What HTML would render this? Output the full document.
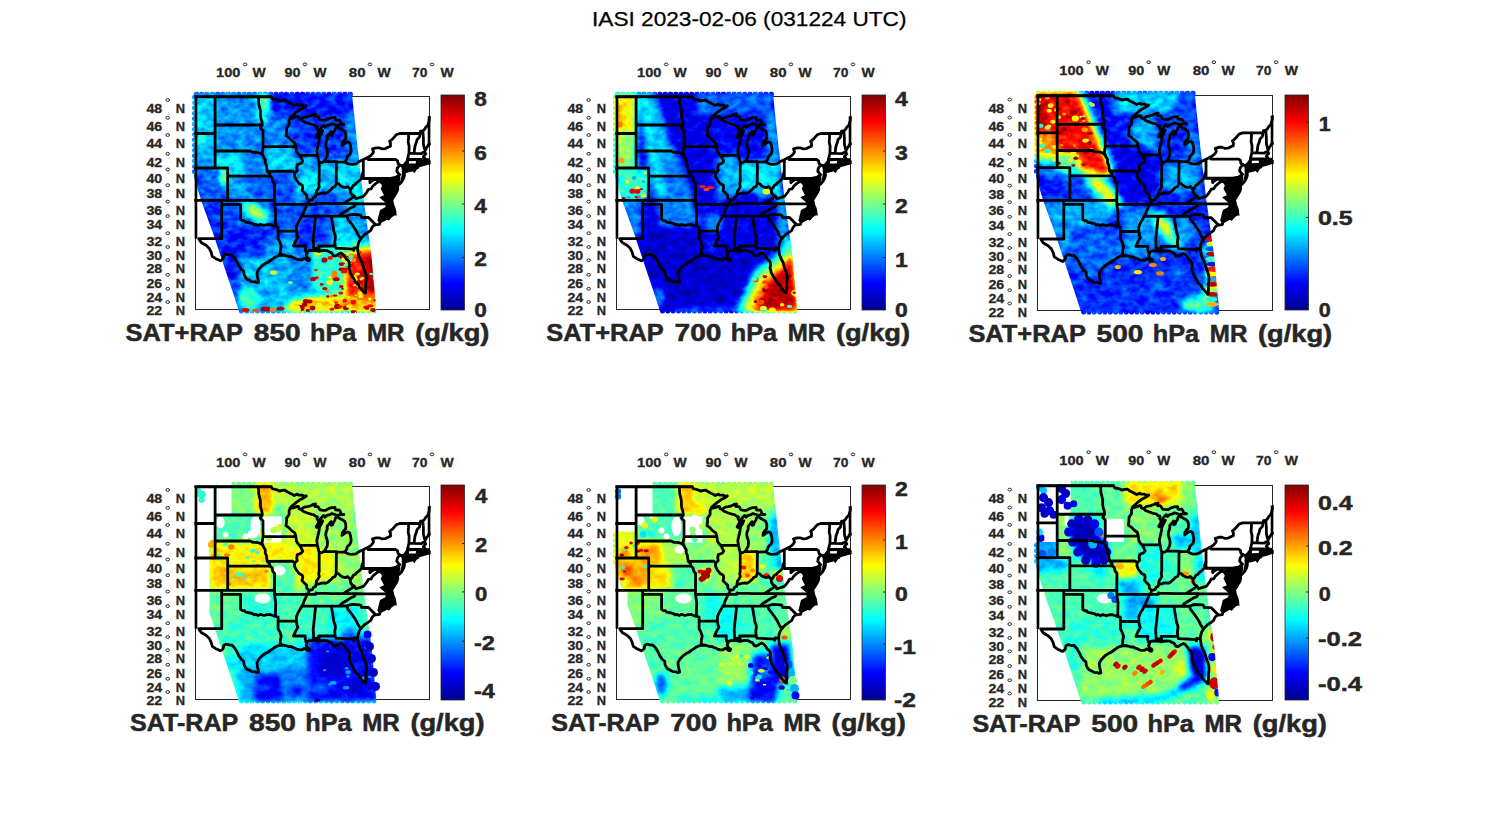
<!DOCTYPE html>
<html><head><meta charset="utf-8"><style>
html,body{margin:0;padding:0;background:#fff;width:1500px;height:825px;overflow:hidden}
svg{display:block}
text{font-family:"Liberation Sans",sans-serif}
</style></head><body>
<svg width="1500" height="825" viewBox="0 0 1500 825">
<defs>
<linearGradient id="jet" x1="0" y1="1" x2="0" y2="0">
<stop offset="0" stop-color="#00008f"/><stop offset="0.125" stop-color="#0000ff"/><stop offset="0.375" stop-color="#00ffff"/><stop offset="0.625" stop-color="#ffff00"/><stop offset="0.875" stop-color="#ff0000"/><stop offset="1" stop-color="#800000"/>
</linearGradient>

<filter id="sb" x="-20" y="-20" width="230" height="260" filterUnits="userSpaceOnUse"><feGaussianBlur stdDeviation="0.6"/></filter>
<clipPath id="fc"><rect x="-1.2" y="-1.2" width="236.4" height="215.4"/></clipPath>

<g id="st" fill="none" stroke="#000" stroke-width="2.8" stroke-linejoin="round" stroke-linecap="round"><path d="M-5.3,0 75.7,0 M75.7,0 76.9,2.4 79.1,2.7 81.3,3.3 84.2,4.6 86.7,3.8 89.5,3.6 91.7,5.3 93.6,6.2 96.1,7.4 98.7,9 101.8,7.6 103.1,8.6 106.2,8.6 108.7,9.6 110.8,9.5 M110.8,9.5 108.1,11.4 104.3,13.3 100.5,16.1 97.4,18.8 94.9,21.1 M94.9,21.1 96.8,21.6 99.3,20.9 101.8,19.8 103.1,20.2 103.4,22.1 105.6,22.9 M105.6,22.9 108.7,20.7 111.9,20.2 115,19.3 117.6,17.9 120.1,17.4 118.8,19 119.4,19.8 122.6,20.2 124.5,23.4 127.6,23.9 130.2,23.9 133.3,21.9 136.4,21.1 139.6,21 139.9,23.4 142.1,23.7 143.7,23.4 145,25.3 145.3,27.1 146.5,27.5 148.4,28 M148.4,28 145.9,28.2 143.4,28.4 141.3,29.2 139.6,28 136.4,27.1 133.9,28.4 131.4,28.9 129.5,30.7 128.3,28.9 126.7,30.3 125.1,32.1 123.2,36.1 M123.2,36.1 122.6,33.9 121.6,32.5 122,30.3 120.1,29.8 118.2,28.2 116.3,27.8 113.8,27.1 111.2,26.2 107.5,24.8 105.6,22.9 M123.2,36.1 122.3,37.4 120.7,40.5 121.3,41 123.8,38.3 125.7,35.2 127.3,34.3 126.1,37 124.5,39.6 123.8,41.9 123.5,44.5 122.9,47.1 122,51 121.3,54.1 121.8,58.1 122,58.9 M122,58.9 122.8,62.6 123.1,64.1 123.7,65.6 125.1,66.3 127,65.8 128.1,65.1 M128.1,65.1 129.5,63.9 130.3,62.2 131.7,59.6 132,56.2 131.7,53.6 130.8,51 130.2,48.4 130.5,45.8 131.7,42.7 131.7,39.6 133.3,37.9 135.5,35.2 136.1,37.4 135.8,38.9 137.1,38.3 137.7,36.1 139,34.3 139.6,33 139.9,31.6 141.3,30 M141.3,30 143.1,31.2 145.3,32.5 147.2,33.4 149.4,35.2 150.3,37.9 150.3,40.5 150,42.7 148.7,43.6 146.8,46.3 146.5,48.9 148.4,47.6 150,46.3 152.2,45.4 154.1,46.3 155,49.3 155.7,53.6 155.3,55.8 154.4,57.9 152.8,59.2 151.6,60.5 151.3,62.6 149.4,65.3 M128.1,65.1 140.9,65.1 140.9,65.6 149.4,65.3 M149.4,65.3 150.9,66.4 152.8,67.3 154.1,67.7 156.6,67.9 160.4,67.3 162.9,65.6 165.4,64.3 167.8,63.2 170.5,61.8 172.6,60.8 175.5,58.8 177.4,56.6 178,55.4 177.4,53.6 177,52.3 180.5,51.3 183.7,51.3 186.2,52.3 190,52.1 193.1,50.5 195,49.7 195,46.7 194.1,44.9 196.3,43.2 197.6,41.9 200.7,38.3 204.2,37 213.1,37 224.6,36.9 225,34.7 227.3,34.3 228.7,33.4 230.3,30.7 232.2,28.9 233.5,25.3 234.7,20.7 M227.3,34.3 227.9,41.4 227.9,47.6 228.9,51.9 229.7,53.9 M224.6,36.9 224,40.5 221.5,43.2 220.9,45.8 219.6,49.3 219,52.8 218.6,56.8 M213.5,56.6 218.6,56.8 225.9,57.1 227.2,56 229.1,55.6 M229.1,55.6 229.7,53.9 230.6,51.9 232.2,49.7 232.8,48.4 234.7,47.6 M229.1,55.6 230.3,57.5 228.4,59.2 227.8,60.5 229.1,61.3 230,63 230.6,64.7 234.7,65.2 M234.7,66.4 230.3,66.8 229.7,65.6 228.4,66.4 227,67.3 M227,67.3 226.5,66 225.4,63.9 225.4,62.9 222.8,62.9 M227,67.3 225.9,67.7 225,68.3 222.4,68.7 M222.8,62.9 222.8,68.7 M222.8,62.9 212,62.6 M222.4,68.7 219.6,69.2 215.8,69.4 213.9,70.2 211,71.5 M211,71.5 212,69.8 212,62.6 213.5,56.6 213.6,49.3 212.7,45.8 213,41.4 213.1,37 M208.9,74.6 211.4,75 215.2,74 218.3,72.7 222.4,70.9 219.6,71.5 217.1,71.9 213.9,72.1 211.4,72.5 210.2,73.1 M209.5,71.5 204.6,68.4 M209.5,71.5 208.9,74 207.6,74.8 208.9,76 208.9,78.9 208.3,81.4 207,83.8 206.3,85 204.5,87.1 202.9,88.5 203.2,86.7 202,85.9 200.1,84.7 199.1,83 200,81.1 M172.6,60.8 172.6,63 200.3,63 202,64.3 202.6,67.3 204.6,68.4 201.8,71.7 201.3,74.8 202.6,76.4 204.2,78.1 202,79.7 200,81.1 197.6,82 167.8,82 167.8,63.2 M197.6,82 197.6,92.3 202.3,92.3 M200,81.1 199.1,83 200.1,85.5 202,88.3 202.1,89.5 202.3,92.3 201.7,94.4 201.1,95.7 200.1,97.2 198.8,99.5 197.2,101.9 196.5,103 M19.6,0 19.6,71.5 M-5.3,37 19.6,37 M19.6,28.5 66.8,28.5 M19.6,54.5 54.5,54.5 57.1,55.8 60.2,55.8 62.7,56.2 65.3,57.1 66.5,58.4 67.5,58.9 M-5.3,71.5 32.2,71.5 32.2,103.9 M32.2,79.7 74.7,79.7 M74.7,79.7 74.1,77.3 71.7,74.8 71.2,71.5 70.9,68.9 69.7,66.4 69.7,63 68.1,60.9 67.5,58.9 M67.5,58.9 66.5,56.2 67.2,52.8 67.5,50.2 67.5,34.3 66.2,33 64.9,31.6 66.8,28.5 M66.8,28.5 66.5,25.3 65.4,22.1 64.9,18.8 64.9,14.2 64,10.4 63.1,6.7 63.1,3.8 62.6,0 M67.5,50.2 100.4,50.2 M71.7,74.8 97.2,74.7 99.2,76.6 M90.5,39.2 93.6,41.4 96.1,44.1 99.3,46.3 100.4,50.2 100.9,54.5 102.4,57.1 104.1,58.8 105.6,61.3 107.2,64.7 105.6,66.8 101.8,68.1 101.2,71.5 101.8,74 99.2,76.6 99,79.7 100.5,83 103.7,87.1 106.8,88.7 107.2,91.1 106.5,94 108.7,96.4 111.2,98.8 111.2,101.5 113.6,103.9 113.1,106.3 111.2,107.8 110.9,109.8 110,111.7 108.4,114.8 107.5,117.9 106.2,119.9 104.3,123.3 102.4,126.4 100.9,130.2 100.9,134.7 101.5,138.4 102.4,140.7 99.9,145.1 98,149.5 M98,149.5 109.8,149.5 109.7,152.5 110.6,155.5 M94.9,21.1 93.6,24.3 93.6,28 91.1,31.6 91.1,34.3 90.5,39.2 M104.1,58.8 122,58.9 M123.7,65.6 123.7,85.1 123.2,87.1 123.8,90.3 122.3,92.8 121,94.4 120.5,97.6 M113.6,103.9 116.9,103.1 118.2,100.7 120.1,99.9 120.5,97.6 123.2,97.6 125.1,96.8 128.3,96.4 130.2,96.8 132,96 133.9,94.4 135.8,92.8 137.1,91.1 139.6,89.9 140.7,87.1 142.8,87.1 145.3,89.5 147.8,90.7 150.3,91.1 152.2,90.1 154.7,92.8 156.6,91.1 157.6,89.1 159.8,87.9 161,86.3 162.6,85.1 164.8,83.4 166.1,81.4 166.4,78.9 167.3,76.4 167.8,74.5 M140.7,87.1 140.9,65.6 M154.7,92.8 155,96 156.6,98.4 158.7,99.5 160.4,102.3 162.9,101.5 165.4,100.7 167.9,99.9 169.2,98.4 171.1,96 173,92.8 175.5,92.4 177.4,89.5 179.3,87.9 181.2,86.3 183.7,84.7 185,85.5 185.3,85.5 M174.4,82 174.4,86.3 176.1,84.7 178.7,83 181.2,83 182.4,82.2 185,84.2 185.3,85.5 186.8,86.7 189.1,88.3 189.7,89.5 188.7,91.5 190,93.2 191.9,94 194.4,96 M158.7,99.5 156.6,101.5 152.8,103.9 147.8,107.1 M111.2,107.8 120.4,107.8 120.4,106.4 121.6,106.8 130.2,106.8 136.4,107.1 147.8,107.1 160.4,107.1 171.1,107.4 197.1,107.4 M110.9,107.8 79,107.8 M74.7,79.7 76.6,81.4 77.2,84.7 79.1,87.1 79,103.9 79,107.8 M-5.3,103.9 79,103.9 M26.2,103.9 26.2,142.2 3.3,142.2 M26.2,107.8 45.1,107.8 45.1,122.9 M45.1,122.9 47,124.1 48.9,124.1 50.1,125.6 52,126 54.5,126.4 57.1,127.1 58.3,128.3 60.5,127.9 62.7,129 64.6,127.9 66.5,128.3 68.4,129 71.6,128.2 74.7,128 77.2,129 79.9,129.9 M79.9,129.9 80.2,116.4 79,107.8 M79.9,129.9 82.6,130.5 82.6,134.7 100.9,134.7 M82.6,134.7 82.6,142.2 84.2,145.1 85.7,149.5 84.8,153.9 84.8,156.9 83.8,159 M106.2,119.6 135.8,119.6 144,119.6 151.6,119.5 M144,119.6 145.9,117.2 149.1,115.2 151.6,113.7 154.1,112.1 156,111 158.5,110.2 160.4,107.1 M151.6,119.5 154.7,118.3 156.6,117.9 164.5,118.3 165.4,119.1 166.1,121 173,121 180.2,128.3 M151.6,119.5 152.2,122.5 154.7,125.6 157.2,129 158.8,131.3 161,134.7 162.3,137.7 164.2,140.7 165.7,141.8 M119.4,119.6 120.1,120.2 117.7,142.9 118.2,153.9 M135.8,119.6 138.5,135.8 139.6,138.4 139.9,140.7 139.3,145.1 139.6,149.5 M123.2,149.5 139.6,149.5 140.5,151.7 149.1,152.1 157.2,152.7 158.2,153.9 158.5,151.4 162,151.7 M123.2,149.5 123.5,152.5 124.2,154.7 M3.3,142.2 4.2,143.8 6,146.2 10.5,148.8 13.6,151.7 15.5,155.4 16.8,159.8 19.9,161.9 24.3,164.1 25.3,164.3 27.5,162.3 28.4,158.7 30.6,157.6 34.4,158.7 36.3,158.3 38.8,161.2 39.4,161.9 42,166.3 43.2,169.1 45.7,172.7 48.2,174.8 48.6,178.4 50.1,181.2 51.4,182.6 53.9,183.7 56.4,185.1 59.6,185.4 61.5,186.1 63.1,185.7 M63.1,185.7 62.7,183.3 61.8,179.8 61.5,176.2 62.7,173.8 63.7,172.3 65.3,170.6 67.2,168.8 69.7,167 72.8,165.5 75.3,163.7 77.9,161.9 79.8,160.5 82.3,159.4 83.8,159 M83.8,159 86.7,158.5 89.8,159 93.6,160.1 95.5,159.8 96.8,160.8 99.9,161.9 101.8,163 104.3,163.4 106.2,163.4 107.5,162.7 108.7,161.9 110.6,162.7 111.9,164.1 113.5,164.1 114.1,162.7 112.5,161.6 111.2,160.1 110.6,158.3 111.6,156.9 110.6,155.5 M110.6,155.5 112.5,154.7 115,153.9 118.2,154.1 120.1,154.3 120.7,151.7 121.3,153.9 122.3,154.8 124.2,154.7 M124.2,154.7 125.7,154.3 128.3,153.9 131.4,154.1 133.9,155.4 135.8,156.1 137.4,158.3 137.7,159.2 139.6,159.6 141.5,158.7 143.7,157.2 145.3,156.5 147.2,157.6 149.1,159.8 150.9,162.7 152.5,163.7 153.8,165.9 154.1,169.1 153.5,171.3 154.4,174.1 154.7,176.2 156,178.4 157.2,180.5 158.5,182.6 159.8,185.1 161,186.5 162.9,188.2 164.2,191 166.4,193.4 168.9,195.9 170,196.5 170.2,192.4 170.3,186.5 170.8,181.9 170.5,178.4 169.5,174.8 168.3,172 167.3,168.4 166.4,165.5 164.8,162.7 163.2,158.7 162.6,155.4 162.3,153.2 162,151.7 M162,151.7 162.6,148.1 163.5,145.1 164.8,142.9 165.7,141.8 167.3,139.9 169.2,138.1 171.4,136.6 173.6,135.1 175.5,133.6 176.5,130.9 178.3,129 180.2,128.3 M180.2,128.3 184,127.9 184.6,125.6 186.8,123.3 189.4,122.2 192.5,121.8 193.1,122.5 195,120.2 197.9,117.9 199.4,117.6 199.4,114.8 198.8,112.1 197.6,109.4 197.1,107.4 M197.1,107.4 196.6,104.7 195.7,104.3 194.4,103.9"/><path d="M0.4,0.4V142.2 M0.4,0.4H75.7 M233.6,19.8 V48" stroke-linecap="butt"/></g>
</defs>
<text x="592" y="26.3" font-size="20.2" fill="#000" stroke="#000" stroke-width="0.25" textLength="314.5" lengthAdjust="spacingAndGlyphs">IASI 2023-02-06 (031224 UTC)</text>
<defs><clipPath id="swp1"><path d="M-1.5,-2.5 156.5,-2.5 162,50 168.2,104 176.1,160.2 181,215 43.5,215 38,197.8 27.6,166.9 17.3,136 6,105 -1.5,80.5Z"/><circle cx="1" cy="-2.2" r="2.7"/><circle cx="6.3" cy="-2.2" r="2.7"/><circle cx="11.6" cy="-2.2" r="2.7"/><circle cx="16.9" cy="-2.2" r="2.7"/><circle cx="22.2" cy="-2.2" r="2.7"/><circle cx="27.5" cy="-2.2" r="2.7"/><circle cx="32.8" cy="-2.2" r="2.7"/><circle cx="38.1" cy="-2.2" r="2.7"/><circle cx="43.4" cy="-2.2" r="2.7"/><circle cx="48.7" cy="-2.2" r="2.7"/><circle cx="54" cy="-2.2" r="2.7"/><circle cx="59.3" cy="-2.2" r="2.7"/><circle cx="64.6" cy="-2.2" r="2.7"/><circle cx="69.9" cy="-2.2" r="2.7"/><circle cx="75.2" cy="-2.2" r="2.7"/><circle cx="80.5" cy="-2.2" r="2.7"/><circle cx="85.8" cy="-2.2" r="2.7"/><circle cx="91.1" cy="-2.2" r="2.7"/><circle cx="96.4" cy="-2.2" r="2.7"/><circle cx="101.7" cy="-2.2" r="2.7"/><circle cx="107" cy="-2.2" r="2.7"/><circle cx="112.3" cy="-2.2" r="2.7"/><circle cx="117.6" cy="-2.2" r="2.7"/><circle cx="122.9" cy="-2.2" r="2.7"/><circle cx="128.2" cy="-2.2" r="2.7"/><circle cx="133.5" cy="-2.2" r="2.7"/><circle cx="138.8" cy="-2.2" r="2.7"/><circle cx="144.1" cy="-2.2" r="2.7"/><circle cx="149.4" cy="-2.2" r="2.7"/><circle cx="154.7" cy="-2.2" r="2.7"/><circle cx="46" cy="214.6" r="2.5"/><circle cx="51.3" cy="214.6" r="2.5"/><circle cx="56.6" cy="214.6" r="2.5"/><circle cx="61.9" cy="214.6" r="2.5"/><circle cx="67.2" cy="214.6" r="2.5"/><circle cx="72.5" cy="214.6" r="2.5"/><circle cx="77.8" cy="214.6" r="2.5"/><circle cx="83.1" cy="214.6" r="2.5"/><circle cx="88.4" cy="214.6" r="2.5"/><circle cx="93.7" cy="214.6" r="2.5"/><circle cx="99" cy="214.6" r="2.5"/><circle cx="104.3" cy="214.6" r="2.5"/><circle cx="109.6" cy="214.6" r="2.5"/><circle cx="114.9" cy="214.6" r="2.5"/><circle cx="120.2" cy="214.6" r="2.5"/><circle cx="125.5" cy="214.6" r="2.5"/><circle cx="130.8" cy="214.6" r="2.5"/><circle cx="136.1" cy="214.6" r="2.5"/><circle cx="141.4" cy="214.6" r="2.5"/><circle cx="146.7" cy="214.6" r="2.5"/><circle cx="152" cy="214.6" r="2.5"/><circle cx="157.3" cy="214.6" r="2.5"/><circle cx="162.6" cy="214.6" r="2.5"/><circle cx="167.9" cy="214.6" r="2.5"/><circle cx="173.2" cy="214.6" r="2.5"/><circle cx="178.5" cy="214.6" r="2.5"/><circle cx="-1.2" cy="1" r="2.4"/><circle cx="-1.2" cy="6.3" r="2.4"/><circle cx="-1.2" cy="11.6" r="2.4"/><circle cx="-1.2" cy="16.9" r="2.4"/><circle cx="-1.2" cy="22.2" r="2.4"/><circle cx="-1.2" cy="27.5" r="2.4"/><circle cx="-1.2" cy="32.8" r="2.4"/><circle cx="-1.2" cy="38.1" r="2.4"/><circle cx="-1.2" cy="43.4" r="2.4"/><circle cx="-1.2" cy="48.7" r="2.4"/><circle cx="-1.2" cy="54" r="2.4"/><circle cx="-1.2" cy="59.3" r="2.4"/><circle cx="-1.2" cy="64.6" r="2.4"/><circle cx="-1.2" cy="69.9" r="2.4"/><circle cx="-1.2" cy="75.2" r="2.4"/></clipPath><filter id="jfp1" x="-20" y="-20" width="230" height="260" filterUnits="userSpaceOnUse" color-interpolation-filters="sRGB">
<feGaussianBlur in="SourceGraphic" stdDeviation="3.2" result="b"/>
<feTurbulence type="fractalNoise" baseFrequency="0.12 0.16" numOctaves="2" seed="7" result="t"/>
<feColorMatrix in="t" type="matrix" values="1 0 0 0 0 1 0 0 0 0 1 0 0 0 0 0 0 0 0 1" result="n"/>
<feComposite in="b" in2="n" operator="arithmetic" k1="0" k2="1" k3="0.24" k4="-0.12" result="v"/>
<feComponentTransfer in="v">
<feFuncR type="table" tableValues="0 0 0 0 0.5 1 1 1 0.5"/>
<feFuncG type="table" tableValues="0 0 0.5 1 1 1 0.5 0 0"/>
<feFuncB type="table" tableValues="0.56 1 1 1 0.5 0 0 0 0"/>
<feFuncA type="table" tableValues="0 1 1"/>
</feComponentTransfer>
</filter></defs>
<g transform="translate(195.5,96.5) scale(1.00000,1.00000)">
<rect x="0" y="0" width="234" height="213" fill="#fff" stroke="#262626" stroke-width="1"/>
<g clip-path="url(#swp1)"><g filter="url(#jfp1)">
<rect x="-20" y="-20" width="230" height="260" fill="#333333"/><rect x="-5" y="-5" width="25" height="42" fill="#545454"/><rect x="20" y="-5" width="44" height="33" fill="#454545"/><rect x="63" y="-5" width="12" height="33" fill="#6b6b6b"/><ellipse cx="68" cy="6" rx="5" ry="8" fill="#787878"/><rect x="75" y="-5" width="82" height="24" fill="#262626"/><ellipse cx="88" cy="6" rx="12" ry="10" fill="#1f1f1f"/><rect x="70" y="19" width="30" height="31" fill="#424242"/><rect x="20" y="28" width="47" height="26" fill="#454545"/><rect x="-5" y="37" width="25" height="35" fill="#4c4c4c"/><ellipse cx="8" cy="42" rx="5" ry="6" fill="#737373"/><rect x="20" y="56" width="28" height="22" fill="#5e5e5e"/><rect x="48" y="56" width="30" height="22" fill="#404040"/><rect x="-5" y="72" width="37" height="31" fill="#383838"/><ellipse cx="28" cy="80" rx="3.5" ry="8" fill="#949494"/><rect x="32" y="79" width="23" height="24" fill="#474747"/><rect x="55" y="79" width="23" height="24" fill="#383838"/><rect x="70" y="51" width="30" height="24" fill="#575757"/><rect x="95" y="19" width="30" height="39" fill="#2e2e2e"/><rect x="125" y="19" width="27" height="46" fill="#303030"/><rect x="152" y="19" width="14" height="51" fill="#454545"/><rect x="100" y="58" width="23" height="22" fill="#4c4c4c"/><rect x="100" y="80" width="23" height="23" fill="#616161"/><rect x="123" y="65" width="17" height="30" fill="#4f4f4f"/><rect x="140" y="65" width="30" height="35" fill="#575757"/><rect x="78" y="75" width="22" height="31" fill="#333333"/><rect x="106" y="97" width="44" height="23" fill="#333333"/><rect x="150" y="97" width="22" height="23" fill="#545454"/><rect x="44" y="106" width="42" height="25" fill="#333333"/><rect x="25" y="103" width="20" height="28" fill="#333333"/><rect x="-5" y="103" width="30" height="39" fill="#2b2b2b"/><rect x="25" y="131" width="61" height="56" fill="#262626"/><ellipse cx="80" cy="150" rx="12" ry="10" fill="#454545"/><ellipse cx="70" cy="178" rx="20" ry="10" fill="#424242"/><ellipse cx="60" cy="116" rx="18" ry="9" fill="#5c5c5c" transform="rotate(35 60 116)"/><ellipse cx="60" cy="116" rx="12" ry="5" fill="#999999" transform="rotate(35 60 116)"/><rect x="86" y="106" width="20" height="29" fill="#383838"/><rect x="86" y="135" width="26" height="24" fill="#4c4c4c"/><rect x="100" y="120" width="37" height="33" fill="#2b2b2b"/><rect x="134" y="120" width="28" height="33" fill="#545454"/><rect x="158" y="110" width="18" height="40" fill="#474747"/><rect x="44" y="159" width="73" height="57" fill="#4f4f4f"/><ellipse cx="53" cy="203" rx="9" ry="12" fill="#737373"/><rect x="94" y="150" width="23" height="50" fill="#424242"/><rect x="117" y="150" width="33" height="50" fill="#6b6b6b"/><path d="M150,158 176,150 183,216 150,216 Z" fill="#dbdbdb"/><rect x="168" y="155" width="16" height="61" fill="#f2f2f2"/><path d="M85,216 100,202 183,198 183,216 Z" fill="#b2b2b2"/><ellipse cx="158" cy="150" rx="12" ry="7" fill="#737373"/>
</g>
<g filter="url(#sb)"><ellipse cx="138.7" cy="180.2" rx="3.3" ry="2.3" fill="#ff7f00"/><ellipse cx="158.0" cy="163.5" rx="3.1" ry="2.1" fill="#ff7f00"/><ellipse cx="155.1" cy="159.2" rx="2.1" ry="1.1" fill="#b20000"/><ellipse cx="145.6" cy="172.8" rx="2.4" ry="1.9" fill="#b20000"/><ellipse cx="146.9" cy="192.4" rx="1.6" ry="0.8" fill="#b20000"/><ellipse cx="145.8" cy="190.0" rx="2.2" ry="1.6" fill="#b20000"/><ellipse cx="141.9" cy="183.8" rx="2.5" ry="1.9" fill="#f9ff05"/><ellipse cx="148.4" cy="173.3" rx="2.6" ry="2.3" fill="#b20000"/><ellipse cx="151.0" cy="169.2" rx="2.0" ry="1.2" fill="#b20000"/><ellipse cx="144.0" cy="159.9" rx="1.7" ry="1.0" fill="#b20000"/><ellipse cx="163.0" cy="193.1" rx="1.5" ry="0.9" fill="#b20000"/><ellipse cx="139.6" cy="199.1" rx="2.3" ry="1.2" fill="#b20000"/><ellipse cx="154.4" cy="167.1" rx="1.7" ry="1.1" fill="#f9ff05"/><ellipse cx="153.4" cy="160.3" rx="2.0" ry="1.1" fill="#b20000"/><ellipse cx="139.3" cy="176.9" rx="2.9" ry="1.7" fill="#ff7f00"/><ellipse cx="126.2" cy="187.9" rx="1.8" ry="1.4" fill="#b20000"/><ellipse cx="136.0" cy="199.6" rx="1.5" ry="1.3" fill="#ff7f00"/><ellipse cx="131.6" cy="194.8" rx="1.9" ry="1.2" fill="#ff7f00"/><ellipse cx="147.8" cy="159.5" rx="3.5" ry="2.0" fill="#ff0500"/><ellipse cx="117.5" cy="182.5" rx="3.2" ry="2.1" fill="#b20000"/><ellipse cx="121.3" cy="181.2" rx="2.0" ry="1.5" fill="#ff0500"/><ellipse cx="146.9" cy="160.7" rx="2.7" ry="2.2" fill="#b20000"/><ellipse cx="158.6" cy="163.2" rx="1.8" ry="1.6" fill="#ff7f00"/><ellipse cx="129.0" cy="163.5" rx="3.0" ry="2.6" fill="#b20000"/><ellipse cx="150.0" cy="172.5" rx="2.5" ry="1.3" fill="#b20000"/><ellipse cx="122.0" cy="156.7" rx="3.4" ry="2.0" fill="#f9ff05"/><ellipse cx="129.3" cy="192.1" rx="2.7" ry="1.7" fill="#b20000"/><ellipse cx="161.6" cy="199.0" rx="1.8" ry="1.2" fill="#ff7f00"/><ellipse cx="146.5" cy="167.6" rx="3.3" ry="1.9" fill="#b20000"/><ellipse cx="120.3" cy="173.5" rx="2.0" ry="1.0" fill="#ff0500"/><ellipse cx="134.7" cy="180.7" rx="1.8" ry="1.2" fill="#f9ff05"/><ellipse cx="164.1" cy="184.6" rx="2.9" ry="2.1" fill="#b20000"/><ellipse cx="145.3" cy="196.6" rx="2.4" ry="1.5" fill="#ff0500"/><ellipse cx="163.2" cy="156.0" rx="2.8" ry="1.9" fill="#ff0500"/><ellipse cx="132.3" cy="200.0" rx="1.7" ry="1.2" fill="#b20000"/><ellipse cx="160.2" cy="188.2" rx="2.9" ry="2.4" fill="#ff0500"/><ellipse cx="133.9" cy="185.8" rx="3.3" ry="2.8" fill="#f9ff05"/><ellipse cx="162.3" cy="156.4" rx="2.5" ry="1.3" fill="#f9ff05"/><ellipse cx="135.2" cy="155.6" rx="1.6" ry="0.9" fill="#b20000"/><ellipse cx="164.7" cy="194.6" rx="3.0" ry="2.0" fill="#ff7f00"/><ellipse cx="139.0" cy="175.8" rx="2.6" ry="1.8" fill="#ff7f00"/><ellipse cx="118.4" cy="182.1" rx="2.5" ry="1.5" fill="#b20000"/><ellipse cx="140.9" cy="182.7" rx="3.3" ry="2.0" fill="#b20000"/><ellipse cx="134.7" cy="161.4" rx="2.7" ry="1.9" fill="#ff0500"/><ellipse cx="148.7" cy="174.9" rx="3.3" ry="2.1" fill="#ff0500"/><ellipse cx="163.2" cy="189.6" rx="2.5" ry="1.4" fill="#f9ff05"/><ellipse cx="179.9" cy="181.7" rx="2.5" ry="1.7" fill="#e5ff19"/><ellipse cx="155.3" cy="160.1" rx="2.4" ry="2.1" fill="#4cffb2"/><ellipse cx="153.2" cy="200.8" rx="1.6" ry="1.3" fill="#f9ff05"/><ellipse cx="164.4" cy="196.9" rx="2.5" ry="2.0" fill="#f9ff05"/><ellipse cx="148.6" cy="162.7" rx="2.9" ry="2.0" fill="#f9ff05"/><ellipse cx="179.7" cy="179.1" rx="2.2" ry="1.7" fill="#f9ff05"/><ellipse cx="165.3" cy="199.7" rx="2.3" ry="2.0" fill="#f9ff05"/><ellipse cx="165.8" cy="182.8" rx="1.6" ry="1.2" fill="#e5ff19"/><ellipse cx="167.1" cy="181.5" rx="2.1" ry="1.1" fill="#e5ff19"/><ellipse cx="150.6" cy="168.6" rx="2.7" ry="1.6" fill="#4cffb2"/><ellipse cx="175.7" cy="177.4" rx="2.0" ry="1.2" fill="#4cffb2"/><ellipse cx="159.6" cy="183.0" rx="2.7" ry="1.9" fill="#f9ff05"/><ellipse cx="160.2" cy="198.7" rx="1.5" ry="0.8" fill="#e5ff19"/><ellipse cx="161.7" cy="177.5" rx="2.7" ry="1.5" fill="#e5ff19"/><ellipse cx="155.1" cy="163.5" rx="1.9" ry="1.3" fill="#4cffb2"/><ellipse cx="159.0" cy="188.7" rx="1.6" ry="1.1" fill="#f9ff05"/><ellipse cx="158.9" cy="180.5" rx="2.5" ry="2.1" fill="#f9ff05"/><ellipse cx="117.0" cy="211.6" rx="2.9" ry="2.4" fill="#b20000"/><ellipse cx="150.4" cy="211.3" rx="3.2" ry="2.4" fill="#b20000"/><ellipse cx="106.1" cy="209.4" rx="1.9" ry="1.2" fill="#e5ff19"/><ellipse cx="105.7" cy="211.6" rx="3.5" ry="3.1" fill="#b20000"/><ellipse cx="102.2" cy="213.1" rx="3.3" ry="2.0" fill="#e5ff19"/><ellipse cx="158.3" cy="215.3" rx="3.1" ry="1.9" fill="#b20000"/><ellipse cx="136.4" cy="212.6" rx="2.6" ry="1.7" fill="#ff0500"/><ellipse cx="170.5" cy="210.9" rx="2.8" ry="1.8" fill="#ff0500"/><ellipse cx="153.7" cy="209.8" rx="3.0" ry="1.7" fill="#e5ff19"/><ellipse cx="140.6" cy="206.1" rx="1.9" ry="1.2" fill="#ff0500"/><ellipse cx="134.1" cy="210.5" rx="2.3" ry="1.3" fill="#e5ff19"/><ellipse cx="141.8" cy="209.9" rx="3.3" ry="2.6" fill="#b20000"/><ellipse cx="101.2" cy="211.1" rx="3.4" ry="2.2" fill="#e5ff19"/><ellipse cx="174.3" cy="202.6" rx="1.8" ry="1.5" fill="#e5ff19"/><ellipse cx="149.3" cy="204.2" rx="2.3" ry="1.9" fill="#ff0500"/><ellipse cx="112.3" cy="214.0" rx="2.2" ry="1.7" fill="#b20000"/><ellipse cx="171.6" cy="211.9" rx="2.0" ry="1.4" fill="#b20000"/><ellipse cx="144.4" cy="210.3" rx="2.2" ry="1.7" fill="#ff0500"/><ellipse cx="110.5" cy="204.7" rx="3.1" ry="2.2" fill="#b20000"/><ellipse cx="109.2" cy="208.0" rx="2.7" ry="2.2" fill="#b20000"/><ellipse cx="177.5" cy="213.6" rx="2.8" ry="2.0" fill="#b20000"/><ellipse cx="179.8" cy="203.7" rx="2.1" ry="1.3" fill="#b20000"/><ellipse cx="174.8" cy="209.3" rx="3.2" ry="1.6" fill="#ff0500"/><ellipse cx="123.5" cy="209.0" rx="3.4" ry="2.4" fill="#e5ff19"/><ellipse cx="114.0" cy="204.9" rx="3.1" ry="2.0" fill="#b20000"/><ellipse cx="157.8" cy="205.6" rx="2.9" ry="2.4" fill="#ff0500"/><ellipse cx="78" cy="176" rx="3.5" ry="2.2" fill="#d1ff2d"/><ellipse cx="95" cy="186" rx="2.5" ry="1.5" fill="#7fff7f"/><ellipse cx="50" cy="213.5" rx="4" ry="2" fill="#e50000"/><ellipse cx="70" cy="212.5" rx="5" ry="2.5" fill="#9e0000"/><ellipse cx="60" cy="214" rx="3" ry="2" fill="#ff4c00"/><ellipse cx="85" cy="212" rx="4" ry="2" fill="#b20000"/><ellipse cx="77" cy="213" rx="3" ry="2" fill="#ff7f00"/></g>
</g>
<g clip-path="url(#fc)"><use href="#st"/><path d="M205.8,68.3 208,67 210.5,63.7 212.5,62.1 234,61.7 234,67.7 228.5,69.5 222.5,71 219,76.8 216.9,74.5 211.5,75.5 209.2,77.5 208.8,81.1 206.3,85.7 204.1,88.5 205.5,82.5 206.5,75.5 206,70.5Z M213,64.7 220.5,64.5 220.3,66.9 213,67.1Z" fill="#000" fill-rule="evenodd"/><path d="M186.5,83.5 195.8,80.2 200.5,79.5 204.5,77.5 205,82.8 203.2,88.2 201.8,95.5 199.2,100.2 197.2,103.5 197.8,108.2 200.5,114.8 201.2,119.5 197.8,116.8 193.8,121.5 189.8,124.2 184.5,126.8 181.8,124.2 184.5,113.5 189.8,110.8 190.5,106.8 183.8,100.8 188.5,98.8 185.2,92.2 186.5,89.5 184.5,84.8Z" fill="#000"/></g>
</g>
<rect x="441" y="95" width="23.5" height="215" fill="url(#jet)" stroke="#262626" stroke-width="0.8"/>
<text x="474.3" y="106.2" font-size="19.5" font-weight="bold" fill="#262626" stroke="#262626" stroke-width="0.45" textLength="12.6" lengthAdjust="spacingAndGlyphs">8</text>
<text x="474.3" y="160.4" font-size="19.5" font-weight="bold" fill="#262626" stroke="#262626" stroke-width="0.45" textLength="12.6" lengthAdjust="spacingAndGlyphs">6</text>
<text x="474.3" y="213.2" font-size="19.5" font-weight="bold" fill="#262626" stroke="#262626" stroke-width="0.45" textLength="12.6" lengthAdjust="spacingAndGlyphs">4</text>
<text x="474.3" y="265.9" font-size="19.5" font-weight="bold" fill="#262626" stroke="#262626" stroke-width="0.45" textLength="12.6" lengthAdjust="spacingAndGlyphs">2</text>
<text x="474.3" y="317.2" font-size="19.5" font-weight="bold" fill="#262626" stroke="#262626" stroke-width="0.45" textLength="12.6" lengthAdjust="spacingAndGlyphs">0</text>
<path d="M464.5,151h-2.5" stroke="#262626" stroke-width="1"/>
<path d="M464.5,204h-2.5" stroke="#262626" stroke-width="1"/>
<path d="M464.5,257.5h-2.5" stroke="#262626" stroke-width="1"/>
<text x="125.6" y="341.1" font-size="23.5" font-weight="bold" fill="#262626" stroke="#262626" stroke-width="0.5" textLength="117.5" lengthAdjust="spacingAndGlyphs">SAT+RAP</text>
<text x="253.8" y="341.1" font-size="23.5" font-weight="bold" fill="#262626" stroke="#262626" stroke-width="0.5" textLength="46.9" lengthAdjust="spacingAndGlyphs">850</text>
<text x="310" y="341.1" font-size="23.5" font-weight="bold" fill="#262626" stroke="#262626" stroke-width="0.5" textLength="46.4" lengthAdjust="spacingAndGlyphs">hPa</text>
<text x="367" y="341.1" font-size="23.5" font-weight="bold" fill="#262626" stroke="#262626" stroke-width="0.5" textLength="37.5" lengthAdjust="spacingAndGlyphs">MR</text>
<text x="415.2" y="341.1" font-size="23.5" font-weight="bold" fill="#262626" stroke="#262626" stroke-width="0.5" textLength="74.2" lengthAdjust="spacingAndGlyphs">(g/kg)</text>
<text x="216" y="76.8" font-size="12.9" font-weight="bold" fill="#262626" stroke="#262626" stroke-width="0.3" textLength="24.4" lengthAdjust="spacingAndGlyphs">100</text>
<ellipse cx="245.2" cy="64.4" rx="1.8" ry="1.4" fill="none" stroke="#262626" stroke-width="1"/>
<text x="252.4" y="76.8" font-size="12.9" font-weight="bold" fill="#262626" stroke="#262626" stroke-width="0.3" textLength="13.2" lengthAdjust="spacingAndGlyphs">W</text>
<text x="284.6" y="76.8" font-size="12.9" font-weight="bold" fill="#262626" stroke="#262626" stroke-width="0.3" textLength="16" lengthAdjust="spacingAndGlyphs">90</text>
<ellipse cx="305" cy="64.4" rx="1.8" ry="1.4" fill="none" stroke="#262626" stroke-width="1"/>
<text x="313.6" y="76.8" font-size="12.9" font-weight="bold" fill="#262626" stroke="#262626" stroke-width="0.3" textLength="13" lengthAdjust="spacingAndGlyphs">W</text>
<text x="348.8" y="76.8" font-size="12.9" font-weight="bold" fill="#262626" stroke="#262626" stroke-width="0.3" textLength="16.8" lengthAdjust="spacingAndGlyphs">80</text>
<ellipse cx="370" cy="64.4" rx="1.8" ry="1.4" fill="none" stroke="#262626" stroke-width="1"/>
<text x="377.6" y="76.8" font-size="12.9" font-weight="bold" fill="#262626" stroke="#262626" stroke-width="0.3" textLength="13.2" lengthAdjust="spacingAndGlyphs">W</text>
<text x="412" y="76.8" font-size="12.9" font-weight="bold" fill="#262626" stroke="#262626" stroke-width="0.3" textLength="15.4" lengthAdjust="spacingAndGlyphs">70</text>
<ellipse cx="432" cy="64.4" rx="1.8" ry="1.4" fill="none" stroke="#262626" stroke-width="1"/>
<text x="440.6" y="76.8" font-size="12.9" font-weight="bold" fill="#262626" stroke="#262626" stroke-width="0.3" textLength="13.2" lengthAdjust="spacingAndGlyphs">W</text>
<text x="146.4" y="113.1" font-size="12.9" font-weight="bold" fill="#262626" stroke="#262626" stroke-width="0.3" textLength="15.8" lengthAdjust="spacingAndGlyphs">48</text>
<ellipse cx="167.7" cy="100" rx="1.8" ry="1.4" fill="none" stroke="#262626" stroke-width="1"/>
<text x="175.7" y="113.1" font-size="12.9" font-weight="bold" fill="#262626" stroke="#262626" stroke-width="0.3" textLength="9.3" lengthAdjust="spacingAndGlyphs">N</text>
<text x="146.4" y="130.9" font-size="12.9" font-weight="bold" fill="#262626" stroke="#262626" stroke-width="0.3" textLength="15.8" lengthAdjust="spacingAndGlyphs">46</text>
<ellipse cx="167.7" cy="117.8" rx="1.8" ry="1.4" fill="none" stroke="#262626" stroke-width="1"/>
<text x="175.7" y="130.9" font-size="12.9" font-weight="bold" fill="#262626" stroke="#262626" stroke-width="0.3" textLength="9.3" lengthAdjust="spacingAndGlyphs">N</text>
<text x="146.4" y="148.1" font-size="12.9" font-weight="bold" fill="#262626" stroke="#262626" stroke-width="0.3" textLength="15.8" lengthAdjust="spacingAndGlyphs">44</text>
<ellipse cx="167.7" cy="135" rx="1.8" ry="1.4" fill="none" stroke="#262626" stroke-width="1"/>
<text x="175.7" y="148.1" font-size="12.9" font-weight="bold" fill="#262626" stroke="#262626" stroke-width="0.3" textLength="9.3" lengthAdjust="spacingAndGlyphs">N</text>
<text x="146.4" y="166.9" font-size="12.9" font-weight="bold" fill="#262626" stroke="#262626" stroke-width="0.3" textLength="15.8" lengthAdjust="spacingAndGlyphs">42</text>
<ellipse cx="167.7" cy="153.8" rx="1.8" ry="1.4" fill="none" stroke="#262626" stroke-width="1"/>
<text x="175.7" y="166.9" font-size="12.9" font-weight="bold" fill="#262626" stroke="#262626" stroke-width="0.3" textLength="9.3" lengthAdjust="spacingAndGlyphs">N</text>
<text x="146.4" y="182.6" font-size="12.9" font-weight="bold" fill="#262626" stroke="#262626" stroke-width="0.3" textLength="15.8" lengthAdjust="spacingAndGlyphs">40</text>
<ellipse cx="167.7" cy="169.5" rx="1.8" ry="1.4" fill="none" stroke="#262626" stroke-width="1"/>
<text x="175.7" y="182.6" font-size="12.9" font-weight="bold" fill="#262626" stroke="#262626" stroke-width="0.3" textLength="9.3" lengthAdjust="spacingAndGlyphs">N</text>
<text x="146.4" y="198.3" font-size="12.9" font-weight="bold" fill="#262626" stroke="#262626" stroke-width="0.3" textLength="15.8" lengthAdjust="spacingAndGlyphs">38</text>
<ellipse cx="167.7" cy="185.2" rx="1.8" ry="1.4" fill="none" stroke="#262626" stroke-width="1"/>
<text x="175.7" y="198.3" font-size="12.9" font-weight="bold" fill="#262626" stroke="#262626" stroke-width="0.3" textLength="9.3" lengthAdjust="spacingAndGlyphs">N</text>
<text x="146.4" y="214.7" font-size="12.9" font-weight="bold" fill="#262626" stroke="#262626" stroke-width="0.3" textLength="15.8" lengthAdjust="spacingAndGlyphs">36</text>
<ellipse cx="167.7" cy="201.6" rx="1.8" ry="1.4" fill="none" stroke="#262626" stroke-width="1"/>
<text x="175.7" y="214.7" font-size="12.9" font-weight="bold" fill="#262626" stroke="#262626" stroke-width="0.3" textLength="9.3" lengthAdjust="spacingAndGlyphs">N</text>
<text x="146.4" y="229.2" font-size="12.9" font-weight="bold" fill="#262626" stroke="#262626" stroke-width="0.3" textLength="15.8" lengthAdjust="spacingAndGlyphs">34</text>
<ellipse cx="167.7" cy="216.1" rx="1.8" ry="1.4" fill="none" stroke="#262626" stroke-width="1"/>
<text x="175.7" y="229.2" font-size="12.9" font-weight="bold" fill="#262626" stroke="#262626" stroke-width="0.3" textLength="9.3" lengthAdjust="spacingAndGlyphs">N</text>
<text x="146.4" y="246.3" font-size="12.9" font-weight="bold" fill="#262626" stroke="#262626" stroke-width="0.3" textLength="15.8" lengthAdjust="spacingAndGlyphs">32</text>
<ellipse cx="167.7" cy="233.2" rx="1.8" ry="1.4" fill="none" stroke="#262626" stroke-width="1"/>
<text x="175.7" y="246.3" font-size="12.9" font-weight="bold" fill="#262626" stroke="#262626" stroke-width="0.3" textLength="9.3" lengthAdjust="spacingAndGlyphs">N</text>
<text x="146.4" y="260.1" font-size="12.9" font-weight="bold" fill="#262626" stroke="#262626" stroke-width="0.3" textLength="15.8" lengthAdjust="spacingAndGlyphs">30</text>
<ellipse cx="167.7" cy="247" rx="1.8" ry="1.4" fill="none" stroke="#262626" stroke-width="1"/>
<text x="175.7" y="260.1" font-size="12.9" font-weight="bold" fill="#262626" stroke="#262626" stroke-width="0.3" textLength="9.3" lengthAdjust="spacingAndGlyphs">N</text>
<text x="146.4" y="273.3" font-size="12.9" font-weight="bold" fill="#262626" stroke="#262626" stroke-width="0.3" textLength="15.8" lengthAdjust="spacingAndGlyphs">28</text>
<ellipse cx="167.7" cy="260.2" rx="1.8" ry="1.4" fill="none" stroke="#262626" stroke-width="1"/>
<text x="175.7" y="273.3" font-size="12.9" font-weight="bold" fill="#262626" stroke="#262626" stroke-width="0.3" textLength="9.3" lengthAdjust="spacingAndGlyphs">N</text>
<text x="146.4" y="287.9" font-size="12.9" font-weight="bold" fill="#262626" stroke="#262626" stroke-width="0.3" textLength="15.8" lengthAdjust="spacingAndGlyphs">26</text>
<ellipse cx="167.7" cy="274.8" rx="1.8" ry="1.4" fill="none" stroke="#262626" stroke-width="1"/>
<text x="175.7" y="287.9" font-size="12.9" font-weight="bold" fill="#262626" stroke="#262626" stroke-width="0.3" textLength="9.3" lengthAdjust="spacingAndGlyphs">N</text>
<text x="146.4" y="301.9" font-size="12.9" font-weight="bold" fill="#262626" stroke="#262626" stroke-width="0.3" textLength="15.8" lengthAdjust="spacingAndGlyphs">24</text>
<ellipse cx="167.7" cy="288.8" rx="1.8" ry="1.4" fill="none" stroke="#262626" stroke-width="1"/>
<text x="175.7" y="301.9" font-size="12.9" font-weight="bold" fill="#262626" stroke="#262626" stroke-width="0.3" textLength="9.3" lengthAdjust="spacingAndGlyphs">N</text>
<text x="146.4" y="315.1" font-size="12.9" font-weight="bold" fill="#262626" stroke="#262626" stroke-width="0.3" textLength="15.8" lengthAdjust="spacingAndGlyphs">22</text>
<ellipse cx="167.7" cy="302" rx="1.8" ry="1.4" fill="none" stroke="#262626" stroke-width="1"/>
<text x="175.7" y="315.1" font-size="12.9" font-weight="bold" fill="#262626" stroke="#262626" stroke-width="0.3" textLength="9.3" lengthAdjust="spacingAndGlyphs">N</text>
<defs><clipPath id="swp2"><path d="M-1.5,-2.5 156.5,-2.5 162,50 168.2,104 176.1,160.2 181,215 43.5,215 38,197.8 27.6,166.9 17.3,136 6,105 -1.5,80.5Z"/><circle cx="1" cy="-2.2" r="2.7"/><circle cx="6.3" cy="-2.2" r="2.7"/><circle cx="11.6" cy="-2.2" r="2.7"/><circle cx="16.9" cy="-2.2" r="2.7"/><circle cx="22.2" cy="-2.2" r="2.7"/><circle cx="27.5" cy="-2.2" r="2.7"/><circle cx="32.8" cy="-2.2" r="2.7"/><circle cx="38.1" cy="-2.2" r="2.7"/><circle cx="43.4" cy="-2.2" r="2.7"/><circle cx="48.7" cy="-2.2" r="2.7"/><circle cx="54" cy="-2.2" r="2.7"/><circle cx="59.3" cy="-2.2" r="2.7"/><circle cx="64.6" cy="-2.2" r="2.7"/><circle cx="69.9" cy="-2.2" r="2.7"/><circle cx="75.2" cy="-2.2" r="2.7"/><circle cx="80.5" cy="-2.2" r="2.7"/><circle cx="85.8" cy="-2.2" r="2.7"/><circle cx="91.1" cy="-2.2" r="2.7"/><circle cx="96.4" cy="-2.2" r="2.7"/><circle cx="101.7" cy="-2.2" r="2.7"/><circle cx="107" cy="-2.2" r="2.7"/><circle cx="112.3" cy="-2.2" r="2.7"/><circle cx="117.6" cy="-2.2" r="2.7"/><circle cx="122.9" cy="-2.2" r="2.7"/><circle cx="128.2" cy="-2.2" r="2.7"/><circle cx="133.5" cy="-2.2" r="2.7"/><circle cx="138.8" cy="-2.2" r="2.7"/><circle cx="144.1" cy="-2.2" r="2.7"/><circle cx="149.4" cy="-2.2" r="2.7"/><circle cx="154.7" cy="-2.2" r="2.7"/><circle cx="46" cy="214.6" r="2.5"/><circle cx="51.3" cy="214.6" r="2.5"/><circle cx="56.6" cy="214.6" r="2.5"/><circle cx="61.9" cy="214.6" r="2.5"/><circle cx="67.2" cy="214.6" r="2.5"/><circle cx="72.5" cy="214.6" r="2.5"/><circle cx="77.8" cy="214.6" r="2.5"/><circle cx="83.1" cy="214.6" r="2.5"/><circle cx="88.4" cy="214.6" r="2.5"/><circle cx="93.7" cy="214.6" r="2.5"/><circle cx="99" cy="214.6" r="2.5"/><circle cx="104.3" cy="214.6" r="2.5"/><circle cx="109.6" cy="214.6" r="2.5"/><circle cx="114.9" cy="214.6" r="2.5"/><circle cx="120.2" cy="214.6" r="2.5"/><circle cx="125.5" cy="214.6" r="2.5"/><circle cx="130.8" cy="214.6" r="2.5"/><circle cx="136.1" cy="214.6" r="2.5"/><circle cx="141.4" cy="214.6" r="2.5"/><circle cx="146.7" cy="214.6" r="2.5"/><circle cx="152" cy="214.6" r="2.5"/><circle cx="157.3" cy="214.6" r="2.5"/><circle cx="162.6" cy="214.6" r="2.5"/><circle cx="167.9" cy="214.6" r="2.5"/><circle cx="173.2" cy="214.6" r="2.5"/><circle cx="178.5" cy="214.6" r="2.5"/><circle cx="-1.2" cy="1" r="2.4"/><circle cx="-1.2" cy="6.3" r="2.4"/><circle cx="-1.2" cy="11.6" r="2.4"/><circle cx="-1.2" cy="16.9" r="2.4"/><circle cx="-1.2" cy="22.2" r="2.4"/><circle cx="-1.2" cy="27.5" r="2.4"/><circle cx="-1.2" cy="32.8" r="2.4"/><circle cx="-1.2" cy="38.1" r="2.4"/><circle cx="-1.2" cy="43.4" r="2.4"/><circle cx="-1.2" cy="48.7" r="2.4"/><circle cx="-1.2" cy="54" r="2.4"/><circle cx="-1.2" cy="59.3" r="2.4"/><circle cx="-1.2" cy="64.6" r="2.4"/><circle cx="-1.2" cy="69.9" r="2.4"/><circle cx="-1.2" cy="75.2" r="2.4"/></clipPath><filter id="jfp2" x="-20" y="-20" width="230" height="260" filterUnits="userSpaceOnUse" color-interpolation-filters="sRGB">
<feGaussianBlur in="SourceGraphic" stdDeviation="3.2" result="b"/>
<feTurbulence type="fractalNoise" baseFrequency="0.12 0.16" numOctaves="2" seed="7" result="t"/>
<feColorMatrix in="t" type="matrix" values="1 0 0 0 0 1 0 0 0 0 1 0 0 0 0 0 0 0 0 1" result="n"/>
<feComposite in="b" in2="n" operator="arithmetic" k1="0" k2="1" k3="0.2" k4="-0.1" result="v"/>
<feComponentTransfer in="v">
<feFuncR type="table" tableValues="0 0 0 0 0.5 1 1 1 0.5"/>
<feFuncG type="table" tableValues="0 0 0.5 1 1 1 0.5 0 0"/>
<feFuncB type="table" tableValues="0.56 1 1 1 0.5 0 0 0 0"/>
<feFuncA type="table" tableValues="0 1 1"/>
</feComponentTransfer>
</filter></defs>
<g transform="translate(616.5,96.5) scale(1.00000,1.00000)">
<rect x="0" y="0" width="234" height="213" fill="#fff" stroke="#262626" stroke-width="1"/>
<g clip-path="url(#swp2)"><g filter="url(#jfp2)">
<rect x="-20" y="-20" width="230" height="260" fill="#1a1a1a"/><rect x="-5" y="-5" width="25" height="42" fill="#a1a1a1"/><ellipse cx="1" cy="20" rx="3" ry="18" fill="#b8b8b8"/><rect x="-5" y="37" width="25" height="35" fill="#858585"/><rect x="-5" y="72" width="37" height="31" fill="#6b6b6b"/><path d="M21,-5 39,-5 52,40 63,65 73,90 85,131 45,131 33.5,75 Z" fill="#4c4c4c"/><path d="M33,70 62,63 73,90 85,131 45,131 Z" fill="#404040"/><path d="M20,-5 32,-5 42,60 50,100 40,100 30,60 Z" fill="#5c5c5c"/><rect x="-5" y="103" width="30" height="39" fill="#404040"/><rect x="78" y="-5" width="79" height="24" fill="#383838"/><rect x="95" y="19" width="30" height="39" fill="#1f1f1f"/><rect x="125" y="19" width="25" height="46" fill="#212121"/><rect x="150" y="19" width="13" height="71" fill="#474747"/><rect x="100" y="58" width="23" height="45" fill="#4c4c4c"/><rect x="123" y="65" width="17" height="30" fill="#5c5c5c"/><rect x="140" y="65" width="25" height="35" fill="#595959"/><rect x="106" y="100" width="54" height="53" fill="#1a1a1a"/><rect x="85" y="106" width="21" height="54" fill="#1f1f1f"/><ellipse cx="97" cy="126" rx="9" ry="10" fill="#424242"/><path d="M160,100 170,100 175,150 162,150 Z" fill="#4c4c4c"/><rect x="25" y="131" width="61" height="59" fill="#121212"/><rect x="45" y="159" width="100" height="57" fill="#121212"/><path d="M118,216 138,172 160,158 176,140 183,216 Z" fill="#6b6b6b"/><path d="M126,216 144,180 165,164 177,150 183,216 Z" fill="#a8a8a8"/><path d="M136,216 150,188 167,171 177,158 183,216 Z" fill="#ededed"/><ellipse cx="42" cy="200" rx="5" ry="12" fill="#404040"/><rect x="60" y="212" width="60" height="4" fill="#4c4c4c"/>
</g>
<g filter="url(#sb)"><ellipse cx="145.3" cy="203.5" rx="2.8" ry="1.9" fill="#9e0000"/><ellipse cx="181.5" cy="196.1" rx="3.4" ry="1.9" fill="#4cffb2"/><ellipse cx="148.4" cy="180.1" rx="2.2" ry="1.6" fill="#9e0000"/><ellipse cx="144.4" cy="205.5" rx="3.3" ry="2.6" fill="#ff4c00"/><ellipse cx="181.9" cy="205.1" rx="3.3" ry="2.5" fill="#9e0000"/><ellipse cx="180.1" cy="198.4" rx="2.9" ry="2.2" fill="#f9ff05"/><ellipse cx="139.0" cy="205.2" rx="1.7" ry="1.4" fill="#9e0000"/><ellipse cx="157.9" cy="198.8" rx="2.2" ry="1.5" fill="#9e0000"/><ellipse cx="167.3" cy="196.0" rx="3.1" ry="1.6" fill="#9e0000"/><ellipse cx="147.2" cy="212.9" rx="3.3" ry="2.6" fill="#4cffb2"/><ellipse cx="181.5" cy="182.4" rx="2.6" ry="1.9" fill="#ff4c00"/><ellipse cx="146.8" cy="211.4" rx="3.3" ry="2.2" fill="#f9ff05"/><ellipse cx="180.0" cy="197.0" rx="2.1" ry="1.5" fill="#f9ff05"/><ellipse cx="139.2" cy="183.2" rx="2.9" ry="2.6" fill="#ff4c00"/><ellipse cx="138.1" cy="182.4" rx="2.7" ry="1.9" fill="#4cffb2"/><ellipse cx="164.8" cy="198.9" rx="2.7" ry="1.5" fill="#9e0000"/><ellipse cx="165.6" cy="208.3" rx="2.2" ry="1.8" fill="#f9ff05"/><ellipse cx="148.8" cy="185.7" rx="3.3" ry="1.9" fill="#ff4c00"/><ellipse cx="154.5" cy="203.2" rx="2.9" ry="2.5" fill="#9e0000"/><ellipse cx="155.9" cy="213.6" rx="3.4" ry="2.5" fill="#f9ff05"/><ellipse cx="159.6" cy="192.8" rx="2.0" ry="1.7" fill="#9e0000"/><ellipse cx="162.7" cy="194.9" rx="2.3" ry="1.8" fill="#9e0000"/><ellipse cx="174.8" cy="181.8" rx="2.0" ry="1.2" fill="#ff4c00"/><ellipse cx="148.9" cy="193.4" rx="3.2" ry="2.4" fill="#9e0000"/><ellipse cx="181.3" cy="205.4" rx="2.5" ry="1.5" fill="#4cffb2"/><ellipse cx="178.1" cy="196.3" rx="3.4" ry="2.9" fill="#f9ff05"/><ellipse cx="173.0" cy="210.0" rx="2.7" ry="1.8" fill="#4cffb2"/><ellipse cx="177.7" cy="196.2" rx="1.8" ry="1.3" fill="#9e0000"/><ellipse cx="171.8" cy="180.3" rx="2.9" ry="2.6" fill="#9e0000"/><ellipse cx="149.6" cy="191.1" rx="2.0" ry="1.8" fill="#ff4c00"/><ellipse cx="28.7" cy="76.4" rx="1.5" ry="1.3" fill="#f9ff05"/><ellipse cx="21.1" cy="94.9" rx="2.8" ry="2.3" fill="#e50000"/><ellipse cx="7.0" cy="101.7" rx="2.0" ry="1.5" fill="#b20000"/><ellipse cx="20.6" cy="100.6" rx="2.6" ry="1.4" fill="#e50000"/><ellipse cx="17.7" cy="81.6" rx="1.8" ry="1.5" fill="#b20000"/><ellipse cx="15.9" cy="94.6" rx="3.0" ry="2.6" fill="#e50000"/><ellipse cx="21.0" cy="91.0" rx="1.9" ry="1.7" fill="#f9ff05"/><ellipse cx="27.0" cy="99.0" rx="2.9" ry="2.0" fill="#f9ff05"/><ellipse cx="24.8" cy="92.7" rx="1.8" ry="0.9" fill="#b20000"/><ellipse cx="27.0" cy="85.0" rx="1.9" ry="1.2" fill="#00b2ff"/><ellipse cx="11.9" cy="100.7" rx="1.8" ry="1.3" fill="#00b2ff"/><ellipse cx="17.5" cy="81.2" rx="2.4" ry="1.7" fill="#00b2ff"/><ellipse cx="22.7" cy="99.9" rx="2.1" ry="1.1" fill="#00b2ff"/><ellipse cx="10.7" cy="85.4" rx="2.1" ry="1.8" fill="#f9ff05"/><ellipse cx="150" cy="95" rx="4" ry="3" fill="#e5ff19"/><ellipse cx="94" cy="91" rx="4" ry="1.5" fill="#ff1900"/><ellipse cx="86" cy="90" rx="3" ry="1.5" fill="#ff1900"/><ellipse cx="90" cy="93" rx="3" ry="1.5" fill="#ff4c00"/><ellipse cx="5" cy="64" rx="3" ry="3" fill="#ff9e00"/><ellipse cx="3" cy="28" rx="3" ry="3" fill="#ff7f00"/></g>
</g>
<g clip-path="url(#fc)"><use href="#st"/><path d="M205.8,68.3 208,67 210.5,63.7 212.5,62.1 234,61.7 234,67.7 228.5,69.5 222.5,71 219,76.8 216.9,74.5 211.5,75.5 209.2,77.5 208.8,81.1 206.3,85.7 204.1,88.5 205.5,82.5 206.5,75.5 206,70.5Z M213,64.7 220.5,64.5 220.3,66.9 213,67.1Z" fill="#000" fill-rule="evenodd"/><path d="M186.5,83.5 195.8,80.2 200.5,79.5 204.5,77.5 205,82.8 203.2,88.2 201.8,95.5 199.2,100.2 197.2,103.5 197.8,108.2 200.5,114.8 201.2,119.5 197.8,116.8 193.8,121.5 189.8,124.2 184.5,126.8 181.8,124.2 184.5,113.5 189.8,110.8 190.5,106.8 183.8,100.8 188.5,98.8 185.2,92.2 186.5,89.5 184.5,84.8Z" fill="#000"/></g>
</g>
<rect x="862" y="95" width="23.5" height="215" fill="url(#jet)" stroke="#262626" stroke-width="0.8"/>
<text x="894.9" y="106" font-size="19.5" font-weight="bold" fill="#262626" stroke="#262626" stroke-width="0.45" textLength="12.8" lengthAdjust="spacingAndGlyphs">4</text>
<text x="894.9" y="159.8" font-size="19.5" font-weight="bold" fill="#262626" stroke="#262626" stroke-width="0.45" textLength="12.8" lengthAdjust="spacingAndGlyphs">3</text>
<text x="894.9" y="213.2" font-size="19.5" font-weight="bold" fill="#262626" stroke="#262626" stroke-width="0.45" textLength="12.8" lengthAdjust="spacingAndGlyphs">2</text>
<text x="894.9" y="266.5" font-size="19.5" font-weight="bold" fill="#262626" stroke="#262626" stroke-width="0.45" textLength="12.8" lengthAdjust="spacingAndGlyphs">1</text>
<text x="894.9" y="317.2" font-size="19.5" font-weight="bold" fill="#262626" stroke="#262626" stroke-width="0.45" textLength="12.8" lengthAdjust="spacingAndGlyphs">0</text>
<path d="M885.5,151h-2.5" stroke="#262626" stroke-width="1"/>
<path d="M885.5,204h-2.5" stroke="#262626" stroke-width="1"/>
<path d="M885.5,257.5h-2.5" stroke="#262626" stroke-width="1"/>
<text x="546.3" y="341.1" font-size="23.5" font-weight="bold" fill="#262626" stroke="#262626" stroke-width="0.5" textLength="117.5" lengthAdjust="spacingAndGlyphs">SAT+RAP</text>
<text x="674.5" y="341.1" font-size="23.5" font-weight="bold" fill="#262626" stroke="#262626" stroke-width="0.5" textLength="46.9" lengthAdjust="spacingAndGlyphs">700</text>
<text x="730.7" y="341.1" font-size="23.5" font-weight="bold" fill="#262626" stroke="#262626" stroke-width="0.5" textLength="46.4" lengthAdjust="spacingAndGlyphs">hPa</text>
<text x="787.7" y="341.1" font-size="23.5" font-weight="bold" fill="#262626" stroke="#262626" stroke-width="0.5" textLength="37.5" lengthAdjust="spacingAndGlyphs">MR</text>
<text x="835.9" y="341.1" font-size="23.5" font-weight="bold" fill="#262626" stroke="#262626" stroke-width="0.5" textLength="74.2" lengthAdjust="spacingAndGlyphs">(g/kg)</text>
<text x="637" y="76.8" font-size="12.9" font-weight="bold" fill="#262626" stroke="#262626" stroke-width="0.3" textLength="24.4" lengthAdjust="spacingAndGlyphs">100</text>
<ellipse cx="666.2" cy="64.4" rx="1.8" ry="1.4" fill="none" stroke="#262626" stroke-width="1"/>
<text x="673.4" y="76.8" font-size="12.9" font-weight="bold" fill="#262626" stroke="#262626" stroke-width="0.3" textLength="13.2" lengthAdjust="spacingAndGlyphs">W</text>
<text x="705.6" y="76.8" font-size="12.9" font-weight="bold" fill="#262626" stroke="#262626" stroke-width="0.3" textLength="16" lengthAdjust="spacingAndGlyphs">90</text>
<ellipse cx="726" cy="64.4" rx="1.8" ry="1.4" fill="none" stroke="#262626" stroke-width="1"/>
<text x="734.6" y="76.8" font-size="12.9" font-weight="bold" fill="#262626" stroke="#262626" stroke-width="0.3" textLength="13" lengthAdjust="spacingAndGlyphs">W</text>
<text x="769.8" y="76.8" font-size="12.9" font-weight="bold" fill="#262626" stroke="#262626" stroke-width="0.3" textLength="16.8" lengthAdjust="spacingAndGlyphs">80</text>
<ellipse cx="791" cy="64.4" rx="1.8" ry="1.4" fill="none" stroke="#262626" stroke-width="1"/>
<text x="798.6" y="76.8" font-size="12.9" font-weight="bold" fill="#262626" stroke="#262626" stroke-width="0.3" textLength="13.2" lengthAdjust="spacingAndGlyphs">W</text>
<text x="833" y="76.8" font-size="12.9" font-weight="bold" fill="#262626" stroke="#262626" stroke-width="0.3" textLength="15.4" lengthAdjust="spacingAndGlyphs">70</text>
<ellipse cx="853" cy="64.4" rx="1.8" ry="1.4" fill="none" stroke="#262626" stroke-width="1"/>
<text x="861.6" y="76.8" font-size="12.9" font-weight="bold" fill="#262626" stroke="#262626" stroke-width="0.3" textLength="13.2" lengthAdjust="spacingAndGlyphs">W</text>
<text x="567.4" y="113.1" font-size="12.9" font-weight="bold" fill="#262626" stroke="#262626" stroke-width="0.3" textLength="15.8" lengthAdjust="spacingAndGlyphs">48</text>
<ellipse cx="588.7" cy="100" rx="1.8" ry="1.4" fill="none" stroke="#262626" stroke-width="1"/>
<text x="596.7" y="113.1" font-size="12.9" font-weight="bold" fill="#262626" stroke="#262626" stroke-width="0.3" textLength="9.3" lengthAdjust="spacingAndGlyphs">N</text>
<text x="567.4" y="130.9" font-size="12.9" font-weight="bold" fill="#262626" stroke="#262626" stroke-width="0.3" textLength="15.8" lengthAdjust="spacingAndGlyphs">46</text>
<ellipse cx="588.7" cy="117.8" rx="1.8" ry="1.4" fill="none" stroke="#262626" stroke-width="1"/>
<text x="596.7" y="130.9" font-size="12.9" font-weight="bold" fill="#262626" stroke="#262626" stroke-width="0.3" textLength="9.3" lengthAdjust="spacingAndGlyphs">N</text>
<text x="567.4" y="148.1" font-size="12.9" font-weight="bold" fill="#262626" stroke="#262626" stroke-width="0.3" textLength="15.8" lengthAdjust="spacingAndGlyphs">44</text>
<ellipse cx="588.7" cy="135" rx="1.8" ry="1.4" fill="none" stroke="#262626" stroke-width="1"/>
<text x="596.7" y="148.1" font-size="12.9" font-weight="bold" fill="#262626" stroke="#262626" stroke-width="0.3" textLength="9.3" lengthAdjust="spacingAndGlyphs">N</text>
<text x="567.4" y="166.9" font-size="12.9" font-weight="bold" fill="#262626" stroke="#262626" stroke-width="0.3" textLength="15.8" lengthAdjust="spacingAndGlyphs">42</text>
<ellipse cx="588.7" cy="153.8" rx="1.8" ry="1.4" fill="none" stroke="#262626" stroke-width="1"/>
<text x="596.7" y="166.9" font-size="12.9" font-weight="bold" fill="#262626" stroke="#262626" stroke-width="0.3" textLength="9.3" lengthAdjust="spacingAndGlyphs">N</text>
<text x="567.4" y="182.6" font-size="12.9" font-weight="bold" fill="#262626" stroke="#262626" stroke-width="0.3" textLength="15.8" lengthAdjust="spacingAndGlyphs">40</text>
<ellipse cx="588.7" cy="169.5" rx="1.8" ry="1.4" fill="none" stroke="#262626" stroke-width="1"/>
<text x="596.7" y="182.6" font-size="12.9" font-weight="bold" fill="#262626" stroke="#262626" stroke-width="0.3" textLength="9.3" lengthAdjust="spacingAndGlyphs">N</text>
<text x="567.4" y="198.3" font-size="12.9" font-weight="bold" fill="#262626" stroke="#262626" stroke-width="0.3" textLength="15.8" lengthAdjust="spacingAndGlyphs">38</text>
<ellipse cx="588.7" cy="185.2" rx="1.8" ry="1.4" fill="none" stroke="#262626" stroke-width="1"/>
<text x="596.7" y="198.3" font-size="12.9" font-weight="bold" fill="#262626" stroke="#262626" stroke-width="0.3" textLength="9.3" lengthAdjust="spacingAndGlyphs">N</text>
<text x="567.4" y="214.7" font-size="12.9" font-weight="bold" fill="#262626" stroke="#262626" stroke-width="0.3" textLength="15.8" lengthAdjust="spacingAndGlyphs">36</text>
<ellipse cx="588.7" cy="201.6" rx="1.8" ry="1.4" fill="none" stroke="#262626" stroke-width="1"/>
<text x="596.7" y="214.7" font-size="12.9" font-weight="bold" fill="#262626" stroke="#262626" stroke-width="0.3" textLength="9.3" lengthAdjust="spacingAndGlyphs">N</text>
<text x="567.4" y="229.2" font-size="12.9" font-weight="bold" fill="#262626" stroke="#262626" stroke-width="0.3" textLength="15.8" lengthAdjust="spacingAndGlyphs">34</text>
<ellipse cx="588.7" cy="216.1" rx="1.8" ry="1.4" fill="none" stroke="#262626" stroke-width="1"/>
<text x="596.7" y="229.2" font-size="12.9" font-weight="bold" fill="#262626" stroke="#262626" stroke-width="0.3" textLength="9.3" lengthAdjust="spacingAndGlyphs">N</text>
<text x="567.4" y="246.3" font-size="12.9" font-weight="bold" fill="#262626" stroke="#262626" stroke-width="0.3" textLength="15.8" lengthAdjust="spacingAndGlyphs">32</text>
<ellipse cx="588.7" cy="233.2" rx="1.8" ry="1.4" fill="none" stroke="#262626" stroke-width="1"/>
<text x="596.7" y="246.3" font-size="12.9" font-weight="bold" fill="#262626" stroke="#262626" stroke-width="0.3" textLength="9.3" lengthAdjust="spacingAndGlyphs">N</text>
<text x="567.4" y="260.1" font-size="12.9" font-weight="bold" fill="#262626" stroke="#262626" stroke-width="0.3" textLength="15.8" lengthAdjust="spacingAndGlyphs">30</text>
<ellipse cx="588.7" cy="247" rx="1.8" ry="1.4" fill="none" stroke="#262626" stroke-width="1"/>
<text x="596.7" y="260.1" font-size="12.9" font-weight="bold" fill="#262626" stroke="#262626" stroke-width="0.3" textLength="9.3" lengthAdjust="spacingAndGlyphs">N</text>
<text x="567.4" y="273.3" font-size="12.9" font-weight="bold" fill="#262626" stroke="#262626" stroke-width="0.3" textLength="15.8" lengthAdjust="spacingAndGlyphs">28</text>
<ellipse cx="588.7" cy="260.2" rx="1.8" ry="1.4" fill="none" stroke="#262626" stroke-width="1"/>
<text x="596.7" y="273.3" font-size="12.9" font-weight="bold" fill="#262626" stroke="#262626" stroke-width="0.3" textLength="9.3" lengthAdjust="spacingAndGlyphs">N</text>
<text x="567.4" y="287.9" font-size="12.9" font-weight="bold" fill="#262626" stroke="#262626" stroke-width="0.3" textLength="15.8" lengthAdjust="spacingAndGlyphs">26</text>
<ellipse cx="588.7" cy="274.8" rx="1.8" ry="1.4" fill="none" stroke="#262626" stroke-width="1"/>
<text x="596.7" y="287.9" font-size="12.9" font-weight="bold" fill="#262626" stroke="#262626" stroke-width="0.3" textLength="9.3" lengthAdjust="spacingAndGlyphs">N</text>
<text x="567.4" y="301.9" font-size="12.9" font-weight="bold" fill="#262626" stroke="#262626" stroke-width="0.3" textLength="15.8" lengthAdjust="spacingAndGlyphs">24</text>
<ellipse cx="588.7" cy="288.8" rx="1.8" ry="1.4" fill="none" stroke="#262626" stroke-width="1"/>
<text x="596.7" y="301.9" font-size="12.9" font-weight="bold" fill="#262626" stroke="#262626" stroke-width="0.3" textLength="9.3" lengthAdjust="spacingAndGlyphs">N</text>
<text x="567.4" y="315.1" font-size="12.9" font-weight="bold" fill="#262626" stroke="#262626" stroke-width="0.3" textLength="15.8" lengthAdjust="spacingAndGlyphs">22</text>
<ellipse cx="588.7" cy="302" rx="1.8" ry="1.4" fill="none" stroke="#262626" stroke-width="1"/>
<text x="596.7" y="315.1" font-size="12.9" font-weight="bold" fill="#262626" stroke="#262626" stroke-width="0.3" textLength="9.3" lengthAdjust="spacingAndGlyphs">N</text>
<defs><clipPath id="swp3"><path d="M-1.5,-2.5 156.5,-2.5 162,50 168.2,104 176.1,160.2 181,215 43.5,215 38,197.8 27.6,166.9 17.3,136 6,105 -1.5,80.5Z"/><circle cx="1" cy="-2.2" r="2.7"/><circle cx="6.3" cy="-2.2" r="2.7"/><circle cx="11.6" cy="-2.2" r="2.7"/><circle cx="16.9" cy="-2.2" r="2.7"/><circle cx="22.2" cy="-2.2" r="2.7"/><circle cx="27.5" cy="-2.2" r="2.7"/><circle cx="32.8" cy="-2.2" r="2.7"/><circle cx="38.1" cy="-2.2" r="2.7"/><circle cx="43.4" cy="-2.2" r="2.7"/><circle cx="48.7" cy="-2.2" r="2.7"/><circle cx="54" cy="-2.2" r="2.7"/><circle cx="59.3" cy="-2.2" r="2.7"/><circle cx="64.6" cy="-2.2" r="2.7"/><circle cx="69.9" cy="-2.2" r="2.7"/><circle cx="75.2" cy="-2.2" r="2.7"/><circle cx="80.5" cy="-2.2" r="2.7"/><circle cx="85.8" cy="-2.2" r="2.7"/><circle cx="91.1" cy="-2.2" r="2.7"/><circle cx="96.4" cy="-2.2" r="2.7"/><circle cx="101.7" cy="-2.2" r="2.7"/><circle cx="107" cy="-2.2" r="2.7"/><circle cx="112.3" cy="-2.2" r="2.7"/><circle cx="117.6" cy="-2.2" r="2.7"/><circle cx="122.9" cy="-2.2" r="2.7"/><circle cx="128.2" cy="-2.2" r="2.7"/><circle cx="133.5" cy="-2.2" r="2.7"/><circle cx="138.8" cy="-2.2" r="2.7"/><circle cx="144.1" cy="-2.2" r="2.7"/><circle cx="149.4" cy="-2.2" r="2.7"/><circle cx="154.7" cy="-2.2" r="2.7"/><circle cx="46" cy="214.6" r="2.5"/><circle cx="51.3" cy="214.6" r="2.5"/><circle cx="56.6" cy="214.6" r="2.5"/><circle cx="61.9" cy="214.6" r="2.5"/><circle cx="67.2" cy="214.6" r="2.5"/><circle cx="72.5" cy="214.6" r="2.5"/><circle cx="77.8" cy="214.6" r="2.5"/><circle cx="83.1" cy="214.6" r="2.5"/><circle cx="88.4" cy="214.6" r="2.5"/><circle cx="93.7" cy="214.6" r="2.5"/><circle cx="99" cy="214.6" r="2.5"/><circle cx="104.3" cy="214.6" r="2.5"/><circle cx="109.6" cy="214.6" r="2.5"/><circle cx="114.9" cy="214.6" r="2.5"/><circle cx="120.2" cy="214.6" r="2.5"/><circle cx="125.5" cy="214.6" r="2.5"/><circle cx="130.8" cy="214.6" r="2.5"/><circle cx="136.1" cy="214.6" r="2.5"/><circle cx="141.4" cy="214.6" r="2.5"/><circle cx="146.7" cy="214.6" r="2.5"/><circle cx="152" cy="214.6" r="2.5"/><circle cx="157.3" cy="214.6" r="2.5"/><circle cx="162.6" cy="214.6" r="2.5"/><circle cx="167.9" cy="214.6" r="2.5"/><circle cx="173.2" cy="214.6" r="2.5"/><circle cx="178.5" cy="214.6" r="2.5"/><circle cx="-1.2" cy="1" r="2.4"/><circle cx="-1.2" cy="6.3" r="2.4"/><circle cx="-1.2" cy="11.6" r="2.4"/><circle cx="-1.2" cy="16.9" r="2.4"/><circle cx="-1.2" cy="22.2" r="2.4"/><circle cx="-1.2" cy="27.5" r="2.4"/><circle cx="-1.2" cy="32.8" r="2.4"/><circle cx="-1.2" cy="38.1" r="2.4"/><circle cx="-1.2" cy="43.4" r="2.4"/><circle cx="-1.2" cy="48.7" r="2.4"/><circle cx="-1.2" cy="54" r="2.4"/><circle cx="-1.2" cy="59.3" r="2.4"/><circle cx="-1.2" cy="64.6" r="2.4"/><circle cx="-1.2" cy="69.9" r="2.4"/><circle cx="-1.2" cy="75.2" r="2.4"/></clipPath><filter id="jfp3" x="-20" y="-20" width="230" height="260" filterUnits="userSpaceOnUse" color-interpolation-filters="sRGB">
<feGaussianBlur in="SourceGraphic" stdDeviation="3.2" result="b"/>
<feTurbulence type="fractalNoise" baseFrequency="0.12 0.16" numOctaves="2" seed="7" result="t"/>
<feColorMatrix in="t" type="matrix" values="1 0 0 0 0 1 0 0 0 0 1 0 0 0 0 0 0 0 0 1" result="n"/>
<feComposite in="b" in2="n" operator="arithmetic" k1="0" k2="1" k3="0.22" k4="-0.11" result="v"/>
<feComponentTransfer in="v">
<feFuncR type="table" tableValues="0 0 0 0 0.5 1 1 1 0.5"/>
<feFuncG type="table" tableValues="0 0 0.5 1 1 1 0.5 0 0"/>
<feFuncB type="table" tableValues="0.56 1 1 1 0.5 0 0 0 0"/>
<feFuncA type="table" tableValues="0 1 1"/>
</feComponentTransfer>
</filter></defs>
<g transform="translate(1037.5,95.5) scale(1.00427,1.00939)">
<rect x="0" y="0" width="234" height="213" fill="#fff" stroke="#262626" stroke-width="1"/>
<g clip-path="url(#swp3)"><g filter="url(#jfp3)">
<rect x="-20" y="-20" width="230" height="260" fill="#2b2b2b"/><path d="M-5,-5 40,-5 58,30 76,78 60,80 40,72 20,62 -5,62 Z" fill="#dedede"/><ellipse cx="5" cy="15" rx="5" ry="20" fill="#ededed"/><rect x="-5" y="37" width="25" height="23" fill="#bdbdbd"/><ellipse cx="8" cy="62" rx="10" ry="6" fill="#8c8c8c"/><path d="M19,56 40,60 44,78 19,78 Z" fill="#757575"/><path d="M40,-5 46,-5 81,80 75,82 Z" fill="#6b6b6b"/><path d="M46,-5 75,-5 100,60 110,110 81,80 Z" fill="#1f1f1f"/><ellipse cx="12" cy="88" rx="14" ry="12" fill="#262626"/><ellipse cx="12" cy="76" rx="10" ry="3" fill="#525252"/><ellipse cx="65" cy="93.5" rx="26" ry="10" fill="#6b6b6b" transform="rotate(45 65 93.5)"/><ellipse cx="65" cy="93.5" rx="22" ry="5" fill="#a3a3a3" transform="rotate(45 65 93.5)"/><path d="M75,-5 152,-5 152,18 75,18 Z" fill="#545454"/><ellipse cx="145" cy="20" rx="10" ry="25" fill="#333333"/><ellipse cx="88" cy="30" rx="14" ry="14" fill="#262626"/><ellipse cx="106" cy="40" rx="14" ry="20" fill="#4c4c4c"/><ellipse cx="97" cy="78" rx="22" ry="30" fill="#1a1a1a"/><ellipse cx="136" cy="50" rx="14" ry="18" fill="#2b2b2b"/><ellipse cx="155" cy="55" rx="6" ry="18" fill="#474747"/><ellipse cx="143" cy="82" rx="20" ry="15" fill="#4c4c4c"/><ellipse cx="135" cy="108" rx="28" ry="10" fill="#262626"/><ellipse cx="40" cy="117" rx="35" ry="14" fill="#4c4c4c"/><ellipse cx="58" cy="158" rx="30" ry="24" fill="#383838"/><ellipse cx="22" cy="140" rx="12" ry="20" fill="#454545"/><ellipse cx="100" cy="190" rx="50" ry="25" fill="#2b2b2b"/><path d="M86,112 112,112 120,140 118,160 86,160 Z" fill="#474747"/><ellipse cx="129" cy="133" rx="24" ry="9" fill="#666666" transform="rotate(54 129 133)"/><ellipse cx="129" cy="133" rx="19" ry="4.5" fill="#999999" transform="rotate(54 129 133)"/><ellipse cx="146" cy="134" rx="12" ry="14" fill="#474747"/><ellipse cx="162" cy="140" rx="6" ry="18" fill="#2e2e2e"/><path d="M166,150 174,150 181,195 172,195 Z" fill="#999999"/><ellipse cx="176" cy="178" rx="5" ry="14" fill="#f2f2f2"/><ellipse cx="170" cy="162" rx="4" ry="4" fill="#262626"/><ellipse cx="170" cy="195" rx="6" ry="8" fill="#8c8c8c"/><ellipse cx="160" cy="207" rx="18" ry="8" fill="#737373"/><ellipse cx="140" cy="175" rx="6" ry="4" fill="#4c4c4c"/><ellipse cx="120" cy="190" rx="8" ry="3" fill="#4c4c4c"/>
</g>
<g filter="url(#sb)"><ellipse cx="0.7" cy="7.9" rx="2.3" ry="1.8" fill="#f9ff05"/><ellipse cx="52.3" cy="37.5" rx="2.9" ry="1.6" fill="#9e0000"/><ellipse cx="1.8" cy="4.2" rx="2.0" ry="1.6" fill="#b2ff4c"/><ellipse cx="22.7" cy="69.7" rx="1.7" ry="0.9" fill="#ff9e00"/><ellipse cx="18.8" cy="14.4" rx="2.3" ry="1.7" fill="#f9ff05"/><ellipse cx="11.6" cy="15.2" rx="2.7" ry="1.9" fill="#f9ff05"/><ellipse cx="46.1" cy="24.9" rx="1.9" ry="1.6" fill="#ff9e00"/><ellipse cx="1.7" cy="51.5" rx="3.2" ry="2.4" fill="#f9ff05"/><ellipse cx="11.4" cy="30.3" rx="2.2" ry="1.4" fill="#f9ff05"/><ellipse cx="26.5" cy="18.4" rx="2.1" ry="1.5" fill="#ff9e00"/><ellipse cx="35.6" cy="58.5" rx="3.4" ry="3.0" fill="#f9ff05"/><ellipse cx="43.4" cy="21.4" rx="1.9" ry="1.4" fill="#b2ff4c"/><ellipse cx="46.1" cy="20.7" rx="1.8" ry="0.9" fill="#b2ff4c"/><ellipse cx="20.6" cy="67.0" rx="2.8" ry="1.7" fill="#9e0000"/><ellipse cx="35.7" cy="69.4" rx="1.9" ry="1.3" fill="#9e0000"/><ellipse cx="24.5" cy="55.2" rx="2.6" ry="1.4" fill="#f9ff05"/><ellipse cx="48.0" cy="44.6" rx="3.4" ry="2.0" fill="#f9ff05"/><ellipse cx="39.2" cy="59.8" rx="2.5" ry="1.7" fill="#b2ff4c"/><ellipse cx="15.3" cy="26.1" rx="2.7" ry="2.0" fill="#f9ff05"/><ellipse cx="47.0" cy="34.0" rx="3.1" ry="2.3" fill="#ff9e00"/><ellipse cx="53.5" cy="53.7" rx="2.0" ry="1.6" fill="#ff9e00"/><ellipse cx="19.2" cy="0.8" rx="2.3" ry="1.4" fill="#f9ff05"/><ellipse cx="54.6" cy="9.3" rx="2.6" ry="1.9" fill="#b2ff4c"/><ellipse cx="48.8" cy="55.2" rx="3.4" ry="2.9" fill="#9e0000"/><ellipse cx="10.1" cy="31.8" rx="2.9" ry="2.1" fill="#b2ff4c"/><ellipse cx="22.1" cy="36.7" rx="2.9" ry="2.0" fill="#9e0000"/><ellipse cx="45.1" cy="22.8" rx="2.2" ry="1.6" fill="#9e0000"/><ellipse cx="41.0" cy="66.0" rx="2.9" ry="2.1" fill="#f9ff05"/><ellipse cx="2.3" cy="46.8" rx="3.0" ry="1.7" fill="#f9ff05"/><ellipse cx="20.9" cy="21.5" rx="2.4" ry="1.9" fill="#b2ff4c"/><ellipse cx="32.3" cy="64.4" rx="2.0" ry="1.8" fill="#f9ff05"/><ellipse cx="1.8" cy="43.0" rx="3.3" ry="2.0" fill="#f9ff05"/><ellipse cx="23.9" cy="49.1" rx="1.9" ry="1.0" fill="#ff9e00"/><ellipse cx="21.1" cy="13.9" rx="1.9" ry="1.2" fill="#9e0000"/><ellipse cx="52.8" cy="7.9" rx="1.9" ry="1.7" fill="#b2ff4c"/><ellipse cx="38.1" cy="62.2" rx="2.4" ry="1.8" fill="#9e0000"/><ellipse cx="10.0" cy="2.4" rx="2.5" ry="1.5" fill="#ff9e00"/><ellipse cx="45.8" cy="68.7" rx="2.1" ry="1.3" fill="#9e0000"/><ellipse cx="16.5" cy="63.9" rx="2.7" ry="1.8" fill="#f9ff05"/><ellipse cx="13.1" cy="10.0" rx="2.8" ry="2.3" fill="#f9ff05"/><ellipse cx="36.9" cy="49.5" rx="1.5" ry="1.3" fill="#ff9e00"/><ellipse cx="51.8" cy="47.1" rx="2.5" ry="2.1" fill="#9e0000"/><ellipse cx="43.5" cy="27.9" rx="1.9" ry="1.6" fill="#ff9e00"/><ellipse cx="2.7" cy="39.9" rx="3.4" ry="2.0" fill="#ff9e00"/><ellipse cx="37.6" cy="22.7" rx="3.5" ry="2.9" fill="#f9ff05"/><ellipse cx="18.0" cy="51.1" rx="3.0" ry="2.0" fill="#f9ff05"/><ellipse cx="17.0" cy="55.9" rx="3.4" ry="2.0" fill="#ff9e00"/><ellipse cx="30.0" cy="5.4" rx="2.5" ry="1.7" fill="#9e0000"/><ellipse cx="26.4" cy="33.5" rx="2.9" ry="2.5" fill="#9e0000"/><ellipse cx="35.7" cy="16.5" rx="3.5" ry="2.4" fill="#9e0000"/><ellipse cx="5" cy="50" rx="3" ry="2" fill="#4cffb2"/><ellipse cx="10" cy="55" rx="3" ry="2" fill="#19ffe5"/><ellipse cx="3" cy="30" rx="3" ry="2" fill="#2dffd1"/><ellipse cx="115" cy="168" rx="4" ry="2" fill="#ff7f00"/><ellipse cx="125" cy="162" rx="3" ry="2" fill="#ffb200"/><ellipse cx="100" cy="175" rx="4" ry="2" fill="#ffe500"/><ellipse cx="80" cy="170" rx="3" ry="2" fill="#ffb200"/><ellipse cx="122" cy="176" rx="4" ry="2" fill="#ff7f00"/><ellipse cx="173" cy="142" rx="6" ry="2.3" fill="#e50000"/><ellipse cx="174" cy="147" rx="6" ry="2.3" fill="#e5ff19"/><ellipse cx="173" cy="152" rx="6" ry="2.3" fill="#004cff"/><ellipse cx="174" cy="157" rx="6" ry="2.3" fill="#b20000"/><ellipse cx="173" cy="162" rx="6" ry="2.3" fill="#4cffb2"/><ellipse cx="174" cy="167" rx="6" ry="2.3" fill="#0019ff"/><ellipse cx="173" cy="172" rx="6" ry="2.3" fill="#ff1900"/><ellipse cx="174" cy="177" rx="6" ry="2.3" fill="#f9ff05"/><ellipse cx="173" cy="182" rx="6" ry="2.3" fill="#00b2ff"/><ellipse cx="174" cy="187" rx="6" ry="2.3" fill="#b20000"/><ellipse cx="173" cy="192" rx="6" ry="2.3" fill="#b2ff4c"/><ellipse cx="174" cy="197" rx="6" ry="2.3" fill="#d10000"/><ellipse cx="173" cy="202" rx="6" ry="2.3" fill="#19ffe5"/><ellipse cx="174" cy="207" rx="6" ry="2.3" fill="#ffb200"/></g>
</g>
<g clip-path="url(#fc)"><use href="#st"/><path d="M205.8,68.3 208,67 210.5,63.7 212.5,62.1 234,61.7 234,67.7 228.5,69.5 222.5,71 219,76.8 216.9,74.5 211.5,75.5 209.2,77.5 208.8,81.1 206.3,85.7 204.1,88.5 205.5,82.5 206.5,75.5 206,70.5Z M213,64.7 220.5,64.5 220.3,66.9 213,67.1Z" fill="#000" fill-rule="evenodd"/><path d="M186.5,83.5 195.8,80.2 200.5,79.5 204.5,77.5 205,82.8 203.2,88.2 201.8,95.5 199.2,100.2 197.2,103.5 197.8,108.2 200.5,114.8 201.2,119.5 197.8,116.8 193.8,121.5 189.8,124.2 184.5,126.8 181.8,124.2 184.5,113.5 189.8,110.8 190.5,106.8 183.8,100.8 188.5,98.8 185.2,92.2 186.5,89.5 184.5,84.8Z" fill="#000"/></g>
</g>
<rect x="1285" y="95" width="23.5" height="215" fill="url(#jet)" stroke="#262626" stroke-width="0.8"/>
<text x="1318.7" y="131.2" font-size="19.5" font-weight="bold" fill="#262626" stroke="#262626" stroke-width="0.45" textLength="12" lengthAdjust="spacingAndGlyphs">1</text>
<text x="1317.9" y="224.5" font-size="19.5" font-weight="bold" fill="#262626" stroke="#262626" stroke-width="0.45" textLength="34.7" lengthAdjust="spacingAndGlyphs">0.5</text>
<text x="1318.7" y="317" font-size="19.5" font-weight="bold" fill="#262626" stroke="#262626" stroke-width="0.45" textLength="12" lengthAdjust="spacingAndGlyphs">0</text>
<path d="M1308.5,122h-2.5" stroke="#262626" stroke-width="1"/>
<path d="M1308.5,217.4h-2.5" stroke="#262626" stroke-width="1"/>
<text x="968.4" y="341.6" font-size="23.5" font-weight="bold" fill="#262626" stroke="#262626" stroke-width="0.5" textLength="117.5" lengthAdjust="spacingAndGlyphs">SAT+RAP</text>
<text x="1096.6" y="341.6" font-size="23.5" font-weight="bold" fill="#262626" stroke="#262626" stroke-width="0.5" textLength="46.9" lengthAdjust="spacingAndGlyphs">500</text>
<text x="1152.8" y="341.6" font-size="23.5" font-weight="bold" fill="#262626" stroke="#262626" stroke-width="0.5" textLength="46.4" lengthAdjust="spacingAndGlyphs">hPa</text>
<text x="1209.8" y="341.6" font-size="23.5" font-weight="bold" fill="#262626" stroke="#262626" stroke-width="0.5" textLength="37.5" lengthAdjust="spacingAndGlyphs">MR</text>
<text x="1258" y="341.6" font-size="23.5" font-weight="bold" fill="#262626" stroke="#262626" stroke-width="0.5" textLength="74.2" lengthAdjust="spacingAndGlyphs">(g/kg)</text>
<text x="1059.3" y="74.6" font-size="12.9" font-weight="bold" fill="#262626" stroke="#262626" stroke-width="0.3" textLength="24.4" lengthAdjust="spacingAndGlyphs">100</text>
<ellipse cx="1088.6" cy="62.2" rx="1.8" ry="1.4" fill="none" stroke="#262626" stroke-width="1"/>
<text x="1095.8" y="74.6" font-size="12.9" font-weight="bold" fill="#262626" stroke="#262626" stroke-width="0.3" textLength="13.2" lengthAdjust="spacingAndGlyphs">W</text>
<text x="1128.2" y="74.6" font-size="12.9" font-weight="bold" fill="#262626" stroke="#262626" stroke-width="0.3" textLength="16" lengthAdjust="spacingAndGlyphs">90</text>
<ellipse cx="1148.7" cy="62.2" rx="1.8" ry="1.4" fill="none" stroke="#262626" stroke-width="1"/>
<text x="1157.3" y="74.6" font-size="12.9" font-weight="bold" fill="#262626" stroke="#262626" stroke-width="0.3" textLength="13" lengthAdjust="spacingAndGlyphs">W</text>
<text x="1192.7" y="74.6" font-size="12.9" font-weight="bold" fill="#262626" stroke="#262626" stroke-width="0.3" textLength="16.8" lengthAdjust="spacingAndGlyphs">80</text>
<ellipse cx="1213.9" cy="62.2" rx="1.8" ry="1.4" fill="none" stroke="#262626" stroke-width="1"/>
<text x="1221.6" y="74.6" font-size="12.9" font-weight="bold" fill="#262626" stroke="#262626" stroke-width="0.3" textLength="13.2" lengthAdjust="spacingAndGlyphs">W</text>
<text x="1256.1" y="74.6" font-size="12.9" font-weight="bold" fill="#262626" stroke="#262626" stroke-width="0.3" textLength="15.4" lengthAdjust="spacingAndGlyphs">70</text>
<ellipse cx="1276.2" cy="62.2" rx="1.8" ry="1.4" fill="none" stroke="#262626" stroke-width="1"/>
<text x="1284.8" y="74.6" font-size="12.9" font-weight="bold" fill="#262626" stroke="#262626" stroke-width="0.3" textLength="13.2" lengthAdjust="spacingAndGlyphs">W</text>
<text x="988.4" y="112.7" font-size="12.9" font-weight="bold" fill="#262626" stroke="#262626" stroke-width="0.3" textLength="15.8" lengthAdjust="spacingAndGlyphs">48</text>
<ellipse cx="1009.7" cy="99.6" rx="1.8" ry="1.4" fill="none" stroke="#262626" stroke-width="1"/>
<text x="1017.7" y="112.7" font-size="12.9" font-weight="bold" fill="#262626" stroke="#262626" stroke-width="0.3" textLength="9.3" lengthAdjust="spacingAndGlyphs">N</text>
<text x="988.4" y="130.7" font-size="12.9" font-weight="bold" fill="#262626" stroke="#262626" stroke-width="0.3" textLength="15.8" lengthAdjust="spacingAndGlyphs">46</text>
<ellipse cx="1009.7" cy="117.6" rx="1.8" ry="1.4" fill="none" stroke="#262626" stroke-width="1"/>
<text x="1017.7" y="130.7" font-size="12.9" font-weight="bold" fill="#262626" stroke="#262626" stroke-width="0.3" textLength="9.3" lengthAdjust="spacingAndGlyphs">N</text>
<text x="988.4" y="148" font-size="12.9" font-weight="bold" fill="#262626" stroke="#262626" stroke-width="0.3" textLength="15.8" lengthAdjust="spacingAndGlyphs">44</text>
<ellipse cx="1009.7" cy="134.9" rx="1.8" ry="1.4" fill="none" stroke="#262626" stroke-width="1"/>
<text x="1017.7" y="148" font-size="12.9" font-weight="bold" fill="#262626" stroke="#262626" stroke-width="0.3" textLength="9.3" lengthAdjust="spacingAndGlyphs">N</text>
<text x="988.4" y="167" font-size="12.9" font-weight="bold" fill="#262626" stroke="#262626" stroke-width="0.3" textLength="15.8" lengthAdjust="spacingAndGlyphs">42</text>
<ellipse cx="1009.7" cy="153.9" rx="1.8" ry="1.4" fill="none" stroke="#262626" stroke-width="1"/>
<text x="1017.7" y="167" font-size="12.9" font-weight="bold" fill="#262626" stroke="#262626" stroke-width="0.3" textLength="9.3" lengthAdjust="spacingAndGlyphs">N</text>
<text x="988.4" y="182.9" font-size="12.9" font-weight="bold" fill="#262626" stroke="#262626" stroke-width="0.3" textLength="15.8" lengthAdjust="spacingAndGlyphs">40</text>
<ellipse cx="1009.7" cy="169.8" rx="1.8" ry="1.4" fill="none" stroke="#262626" stroke-width="1"/>
<text x="1017.7" y="182.9" font-size="12.9" font-weight="bold" fill="#262626" stroke="#262626" stroke-width="0.3" textLength="9.3" lengthAdjust="spacingAndGlyphs">N</text>
<text x="988.4" y="198.7" font-size="12.9" font-weight="bold" fill="#262626" stroke="#262626" stroke-width="0.3" textLength="15.8" lengthAdjust="spacingAndGlyphs">38</text>
<ellipse cx="1009.7" cy="185.6" rx="1.8" ry="1.4" fill="none" stroke="#262626" stroke-width="1"/>
<text x="1017.7" y="198.7" font-size="12.9" font-weight="bold" fill="#262626" stroke="#262626" stroke-width="0.3" textLength="9.3" lengthAdjust="spacingAndGlyphs">N</text>
<text x="988.4" y="215.3" font-size="12.9" font-weight="bold" fill="#262626" stroke="#262626" stroke-width="0.3" textLength="15.8" lengthAdjust="spacingAndGlyphs">36</text>
<ellipse cx="1009.7" cy="202.2" rx="1.8" ry="1.4" fill="none" stroke="#262626" stroke-width="1"/>
<text x="1017.7" y="215.3" font-size="12.9" font-weight="bold" fill="#262626" stroke="#262626" stroke-width="0.3" textLength="9.3" lengthAdjust="spacingAndGlyphs">N</text>
<text x="988.4" y="229.9" font-size="12.9" font-weight="bold" fill="#262626" stroke="#262626" stroke-width="0.3" textLength="15.8" lengthAdjust="spacingAndGlyphs">34</text>
<ellipse cx="1009.7" cy="216.8" rx="1.8" ry="1.4" fill="none" stroke="#262626" stroke-width="1"/>
<text x="1017.7" y="229.9" font-size="12.9" font-weight="bold" fill="#262626" stroke="#262626" stroke-width="0.3" textLength="9.3" lengthAdjust="spacingAndGlyphs">N</text>
<text x="988.4" y="247.2" font-size="12.9" font-weight="bold" fill="#262626" stroke="#262626" stroke-width="0.3" textLength="15.8" lengthAdjust="spacingAndGlyphs">32</text>
<ellipse cx="1009.7" cy="234.1" rx="1.8" ry="1.4" fill="none" stroke="#262626" stroke-width="1"/>
<text x="1017.7" y="247.2" font-size="12.9" font-weight="bold" fill="#262626" stroke="#262626" stroke-width="0.3" textLength="9.3" lengthAdjust="spacingAndGlyphs">N</text>
<text x="988.4" y="261.1" font-size="12.9" font-weight="bold" fill="#262626" stroke="#262626" stroke-width="0.3" textLength="15.8" lengthAdjust="spacingAndGlyphs">30</text>
<ellipse cx="1009.7" cy="248" rx="1.8" ry="1.4" fill="none" stroke="#262626" stroke-width="1"/>
<text x="1017.7" y="261.1" font-size="12.9" font-weight="bold" fill="#262626" stroke="#262626" stroke-width="0.3" textLength="9.3" lengthAdjust="spacingAndGlyphs">N</text>
<text x="988.4" y="274.4" font-size="12.9" font-weight="bold" fill="#262626" stroke="#262626" stroke-width="0.3" textLength="15.8" lengthAdjust="spacingAndGlyphs">28</text>
<ellipse cx="1009.7" cy="261.3" rx="1.8" ry="1.4" fill="none" stroke="#262626" stroke-width="1"/>
<text x="1017.7" y="274.4" font-size="12.9" font-weight="bold" fill="#262626" stroke="#262626" stroke-width="0.3" textLength="9.3" lengthAdjust="spacingAndGlyphs">N</text>
<text x="988.4" y="289.2" font-size="12.9" font-weight="bold" fill="#262626" stroke="#262626" stroke-width="0.3" textLength="15.8" lengthAdjust="spacingAndGlyphs">26</text>
<ellipse cx="1009.7" cy="276.1" rx="1.8" ry="1.4" fill="none" stroke="#262626" stroke-width="1"/>
<text x="1017.7" y="289.2" font-size="12.9" font-weight="bold" fill="#262626" stroke="#262626" stroke-width="0.3" textLength="9.3" lengthAdjust="spacingAndGlyphs">N</text>
<text x="988.4" y="303.3" font-size="12.9" font-weight="bold" fill="#262626" stroke="#262626" stroke-width="0.3" textLength="15.8" lengthAdjust="spacingAndGlyphs">24</text>
<ellipse cx="1009.7" cy="290.2" rx="1.8" ry="1.4" fill="none" stroke="#262626" stroke-width="1"/>
<text x="1017.7" y="303.3" font-size="12.9" font-weight="bold" fill="#262626" stroke="#262626" stroke-width="0.3" textLength="9.3" lengthAdjust="spacingAndGlyphs">N</text>
<text x="988.4" y="316.6" font-size="12.9" font-weight="bold" fill="#262626" stroke="#262626" stroke-width="0.3" textLength="15.8" lengthAdjust="spacingAndGlyphs">22</text>
<ellipse cx="1009.7" cy="303.5" rx="1.8" ry="1.4" fill="none" stroke="#262626" stroke-width="1"/>
<text x="1017.7" y="316.6" font-size="12.9" font-weight="bold" fill="#262626" stroke="#262626" stroke-width="0.3" textLength="9.3" lengthAdjust="spacingAndGlyphs">N</text>
<defs><clipPath id="swp4"><path d="M-1.5,-2.5 156.5,-2.5 162,50 168.2,104 176.1,160.2 181,215 43.5,215 38,197.8 27.6,166.9 17.3,136 6,105 -1.5,80.5Z"/><circle cx="1" cy="-2.2" r="2.7"/><circle cx="6.3" cy="-2.2" r="2.7"/><circle cx="11.6" cy="-2.2" r="2.7"/><circle cx="16.9" cy="-2.2" r="2.7"/><circle cx="22.2" cy="-2.2" r="2.7"/><circle cx="27.5" cy="-2.2" r="2.7"/><circle cx="32.8" cy="-2.2" r="2.7"/><circle cx="38.1" cy="-2.2" r="2.7"/><circle cx="43.4" cy="-2.2" r="2.7"/><circle cx="48.7" cy="-2.2" r="2.7"/><circle cx="54" cy="-2.2" r="2.7"/><circle cx="59.3" cy="-2.2" r="2.7"/><circle cx="64.6" cy="-2.2" r="2.7"/><circle cx="69.9" cy="-2.2" r="2.7"/><circle cx="75.2" cy="-2.2" r="2.7"/><circle cx="80.5" cy="-2.2" r="2.7"/><circle cx="85.8" cy="-2.2" r="2.7"/><circle cx="91.1" cy="-2.2" r="2.7"/><circle cx="96.4" cy="-2.2" r="2.7"/><circle cx="101.7" cy="-2.2" r="2.7"/><circle cx="107" cy="-2.2" r="2.7"/><circle cx="112.3" cy="-2.2" r="2.7"/><circle cx="117.6" cy="-2.2" r="2.7"/><circle cx="122.9" cy="-2.2" r="2.7"/><circle cx="128.2" cy="-2.2" r="2.7"/><circle cx="133.5" cy="-2.2" r="2.7"/><circle cx="138.8" cy="-2.2" r="2.7"/><circle cx="144.1" cy="-2.2" r="2.7"/><circle cx="149.4" cy="-2.2" r="2.7"/><circle cx="154.7" cy="-2.2" r="2.7"/><circle cx="46" cy="214.6" r="2.5"/><circle cx="51.3" cy="214.6" r="2.5"/><circle cx="56.6" cy="214.6" r="2.5"/><circle cx="61.9" cy="214.6" r="2.5"/><circle cx="67.2" cy="214.6" r="2.5"/><circle cx="72.5" cy="214.6" r="2.5"/><circle cx="77.8" cy="214.6" r="2.5"/><circle cx="83.1" cy="214.6" r="2.5"/><circle cx="88.4" cy="214.6" r="2.5"/><circle cx="93.7" cy="214.6" r="2.5"/><circle cx="99" cy="214.6" r="2.5"/><circle cx="104.3" cy="214.6" r="2.5"/><circle cx="109.6" cy="214.6" r="2.5"/><circle cx="114.9" cy="214.6" r="2.5"/><circle cx="120.2" cy="214.6" r="2.5"/><circle cx="125.5" cy="214.6" r="2.5"/><circle cx="130.8" cy="214.6" r="2.5"/><circle cx="136.1" cy="214.6" r="2.5"/><circle cx="141.4" cy="214.6" r="2.5"/><circle cx="146.7" cy="214.6" r="2.5"/><circle cx="152" cy="214.6" r="2.5"/><circle cx="157.3" cy="214.6" r="2.5"/><circle cx="162.6" cy="214.6" r="2.5"/><circle cx="167.9" cy="214.6" r="2.5"/><circle cx="173.2" cy="214.6" r="2.5"/><circle cx="178.5" cy="214.6" r="2.5"/><circle cx="-1.2" cy="1" r="2.4"/><circle cx="-1.2" cy="6.3" r="2.4"/><circle cx="-1.2" cy="11.6" r="2.4"/><circle cx="-1.2" cy="16.9" r="2.4"/><circle cx="-1.2" cy="22.2" r="2.4"/><circle cx="-1.2" cy="27.5" r="2.4"/><circle cx="-1.2" cy="32.8" r="2.4"/><circle cx="-1.2" cy="38.1" r="2.4"/><circle cx="-1.2" cy="43.4" r="2.4"/><circle cx="-1.2" cy="48.7" r="2.4"/><circle cx="-1.2" cy="54" r="2.4"/><circle cx="-1.2" cy="59.3" r="2.4"/><circle cx="-1.2" cy="64.6" r="2.4"/><circle cx="-1.2" cy="69.9" r="2.4"/><circle cx="-1.2" cy="75.2" r="2.4"/></clipPath><filter id="jfp4" x="-20" y="-20" width="230" height="260" filterUnits="userSpaceOnUse" color-interpolation-filters="sRGB">
<feGaussianBlur in="SourceGraphic" stdDeviation="3.2" result="b"/>
<feTurbulence type="fractalNoise" baseFrequency="0.12 0.16" numOctaves="2" seed="7" result="t"/>
<feColorMatrix in="t" type="matrix" values="1 0 0 0 0 1 0 0 0 0 1 0 0 0 0 0 0 0 0 1" result="n"/>
<feComposite in="b" in2="n" operator="arithmetic" k1="0" k2="1" k3="0.14" k4="-0.07" result="v"/>
<feComponentTransfer in="v">
<feFuncR type="table" tableValues="0 0 0 0 0.5 1 1 1 0.5"/>
<feFuncG type="table" tableValues="0 0 0.5 1 1 1 0.5 0 0"/>
<feFuncB type="table" tableValues="0.56 1 1 1 0.5 0 0 0 0"/>
<feFuncA type="table" tableValues="0 1 1"/>
</feComponentTransfer>
</filter></defs>
<g transform="translate(195.5,486.5) scale(1.00000,1.00000)">
<rect x="0" y="0" width="234" height="213" fill="#fff" stroke="#262626" stroke-width="1"/>
<g clip-path="url(#swp4)"><g filter="url(#jfp4)">
<rect x="-20" y="-20" width="230" height="260" fill="#737373"/><rect x="-5" y="-5" width="26" height="108" fill="#737373"/><rect x="14" y="56" width="18" height="47" fill="#adadad"/><rect x="21" y="-5" width="43" height="33" fill="#808080"/><rect x="61" y="-5" width="17" height="33" fill="#b2b2b2"/><rect x="78" y="-5" width="82" height="24" fill="#8c8c8c"/><rect x="21" y="28" width="46" height="26" fill="#737373"/><rect x="21" y="56" width="57" height="22" fill="#a3a3a3"/><rect x="32" y="79" width="46" height="24" fill="#adadad"/><rect x="70" y="51" width="30" height="24" fill="#a3a3a3"/><rect x="75" y="75" width="31" height="31" fill="#737373"/><rect x="89" y="19" width="31" height="42" fill="#919191"/><rect x="120" y="19" width="40" height="46" fill="#878787"/><rect x="100" y="58" width="23" height="45" fill="#a3a3a3"/><rect x="123" y="65" width="17" height="30" fill="#9e9e9e"/><rect x="140" y="65" width="30" height="35" fill="#858585"/><rect x="106" y="97" width="66" height="23" fill="#787878"/><rect x="44" y="106" width="42" height="25" fill="#6b6b6b"/><rect x="0" y="103" width="44" height="39" fill="#787878"/><rect x="25" y="131" width="61" height="39" fill="#6e6e6e"/><rect x="25" y="170" width="61" height="17" fill="#616161"/><rect x="86" y="106" width="20" height="54" fill="#737373"/><rect x="100" y="120" width="37" height="33" fill="#6e6e6e"/><rect x="134" y="120" width="31" height="25" fill="#5e5e5e"/><ellipse cx="155" cy="148" rx="10" ry="6" fill="#404040"/><rect x="44" y="159" width="68" height="28" fill="#545454"/><rect x="44" y="187" width="42" height="29" fill="#1a1a1a"/><path d="M40,185 62,185 58,216 44,216 Z" fill="#4c4c4c"/><ellipse cx="70" cy="200" rx="6" ry="5" fill="#383838"/><rect x="86" y="181" width="26" height="35" fill="#404040"/><path d="M112,153 178,150 183,216 112,216 Z" fill="#212121"/><ellipse cx="136" cy="178" rx="14" ry="12" fill="#121212"/><ellipse cx="160" cy="200" rx="10" ry="8" fill="#121212"/><ellipse cx="125" cy="200" rx="8" ry="6" fill="#3d3d3d"/><ellipse cx="100" cy="205" rx="6" ry="5" fill="#1f1f1f"/>
</g>
<g filter="url(#sb)"><ellipse cx="129.1" cy="183.8" rx="1.7" ry="1.1" fill="#009eff"/><ellipse cx="142.5" cy="161.8" rx="3.1" ry="2.7" fill="#0000b2"/><ellipse cx="152.9" cy="208.0" rx="1.6" ry="1.0" fill="#0000b2"/><ellipse cx="121.7" cy="213.6" rx="3.0" ry="2.0" fill="#0000b2"/><ellipse cx="137.7" cy="196.3" rx="3.3" ry="1.9" fill="#00b2ff"/><ellipse cx="134.5" cy="197.8" rx="2.1" ry="1.4" fill="#009eff"/><ellipse cx="159.3" cy="173.7" rx="2.3" ry="2.0" fill="#0000b2"/><ellipse cx="145.4" cy="186.7" rx="2.8" ry="2.1" fill="#0000b2"/><ellipse cx="152.5" cy="190.0" rx="1.6" ry="1.4" fill="#009eff"/><ellipse cx="134.1" cy="192.0" rx="1.5" ry="1.0" fill="#0000b2"/><ellipse cx="138.7" cy="167.4" rx="2.3" ry="1.5" fill="#0000b2"/><ellipse cx="140.7" cy="160.1" rx="2.3" ry="2.0" fill="#0000b2"/><ellipse cx="168.9" cy="191.8" rx="2.6" ry="2.0" fill="#00b2ff"/><ellipse cx="132.0" cy="164.9" rx="1.5" ry="0.9" fill="#00b2ff"/><ellipse cx="171.5" cy="161.1" rx="2.7" ry="2.0" fill="#00b2ff"/><ellipse cx="151.0" cy="181.8" rx="1.9" ry="1.2" fill="#009eff"/><ellipse cx="152.6" cy="185.6" rx="2.8" ry="2.0" fill="#009eff"/><ellipse cx="174.5" cy="190.3" rx="2.0" ry="1.4" fill="#009eff"/><ellipse cx="150.5" cy="201.3" rx="3.3" ry="1.7" fill="#009eff"/><ellipse cx="173.6" cy="201.9" rx="1.8" ry="1.4" fill="#0000b2"/><ellipse cx="71.5" cy="75.6" rx="2.5" ry="2.1" fill="#7fff7f"/><ellipse cx="56.8" cy="64.7" rx="2.4" ry="2.0" fill="#4cffb2"/><ellipse cx="24.0" cy="72.1" rx="2.9" ry="2.4" fill="#7fff7f"/><ellipse cx="51.8" cy="71.0" rx="2.1" ry="1.6" fill="#4cffb2"/><ellipse cx="43.1" cy="89.0" rx="2.1" ry="1.4" fill="#4cffb2"/><ellipse cx="46.7" cy="88.6" rx="2.6" ry="1.7" fill="#2dffd1"/><ellipse cx="49.4" cy="92.3" rx="2.0" ry="1.1" fill="#2dffd1"/><ellipse cx="70.8" cy="84.8" rx="2.3" ry="1.5" fill="#ff7f00"/><ellipse cx="37.5" cy="92.0" rx="1.8" ry="1.0" fill="#7fff7f"/><ellipse cx="77.7" cy="89.5" rx="2.7" ry="1.7" fill="#2dffd1"/><ellipse cx="67.1" cy="74.2" rx="1.8" ry="1.3" fill="#7fff7f"/><ellipse cx="61.8" cy="66.3" rx="2.2" ry="1.8" fill="#2dffd1"/><ellipse cx="30.1" cy="58.0" rx="2.7" ry="1.6" fill="#2dffd1"/><ellipse cx="43.4" cy="87.1" rx="3.1" ry="2.2" fill="#4cffb2"/><ellipse cx="31.5" cy="68.3" rx="3.1" ry="1.6" fill="#ff7f00"/><ellipse cx="57.7" cy="64.0" rx="2.1" ry="1.7" fill="#2dffd1"/><ellipse cx="62.2" cy="78.7" rx="2.7" ry="1.5" fill="#ff7f00"/><ellipse cx="58.2" cy="74.7" rx="2.1" ry="1.1" fill="#7fff7f"/><ellipse cx="76.6" cy="74.6" rx="2.0" ry="1.5" fill="#2dffd1"/><ellipse cx="23.3" cy="68.9" rx="2.2" ry="1.4" fill="#4cffb2"/><ellipse cx="34.0" cy="97.5" rx="2.1" ry="1.8" fill="#ff7f00"/><ellipse cx="35.8" cy="60.5" rx="3.2" ry="2.8" fill="#ff7f00"/></g>
</g>
<path d="M-5,-5 21,-5 21,56 14,56 14,103 14,140 -5,140 Z" fill="#fff"/><path d="M21,-5 36,-5 36,28 21,28 Z" fill="#fff"/><path d="M66,30 86,30 86,56 66,56 Z" fill="#fff"/><ellipse cx="67" cy="112" rx="8" ry="5" fill="#fff"/><ellipse cx="84" cy="84" rx="6" ry="5" fill="#fff"/><ellipse cx="25" cy="36" rx="4" ry="6" fill="#fff"/><ellipse cx="30" cy="48" rx="3" ry="3" fill="#fff"/><ellipse cx="50" cy="50" rx="3" ry="3" fill="#fff"/><ellipse cx="60" cy="40" rx="5" ry="11" fill="#fff"/><ellipse cx="56" cy="48" rx="4" ry="4" fill="#fff"/><circle cx="3.0" cy="4.6" r="3.2" fill="#2dffd1"/><circle cx="7.2" cy="7.7" r="3.2" fill="#19ffe5"/><circle cx="4.4" cy="7.7" r="3.2" fill="#2dffd1"/><circle cx="6.2" cy="13.2" r="3.2" fill="#2dffd1"/><circle cx="17.8" cy="56.4" r="3.2" fill="#ffe500"/><circle cx="15.5" cy="58.2" r="3.2" fill="#ffb200"/><circle cx="18.1" cy="70.3" r="3.2" fill="#ffb200"/><circle cx="17.5" cy="56.5" r="3.2" fill="#ffb200"/><circle cx="66.8" cy="48.0" r="3.2" fill="#f9ff05"/><circle cx="85.2" cy="40.5" r="3.2" fill="#b2ff4c"/><circle cx="81.9" cy="42.4" r="3.2" fill="#e5ff19"/><circle cx="78.2" cy="43.8" r="3.2" fill="#b2ff4c"/><circle cx="73.4" cy="51.6" r="3.2" fill="#b2ff4c"/><circle cx="174" cy="160" r="4.5" fill="#0000bc"/><circle cx="176" cy="172" r="4.5" fill="#0000d1"/><circle cx="178" cy="186" r="4.5" fill="#0000bc"/><circle cx="180" cy="200" r="4.5" fill="#0000d1"/><circle cx="172" cy="148" r="4" fill="#0000e5"/>
<g clip-path="url(#fc)"><use href="#st"/><path d="M205.8,68.3 208,67 210.5,63.7 212.5,62.1 234,61.7 234,67.7 228.5,69.5 222.5,71 219,76.8 216.9,74.5 211.5,75.5 209.2,77.5 208.8,81.1 206.3,85.7 204.1,88.5 205.5,82.5 206.5,75.5 206,70.5Z M213,64.7 220.5,64.5 220.3,66.9 213,67.1Z" fill="#000" fill-rule="evenodd"/><path d="M186.5,83.5 195.8,80.2 200.5,79.5 204.5,77.5 205,82.8 203.2,88.2 201.8,95.5 199.2,100.2 197.2,103.5 197.8,108.2 200.5,114.8 201.2,119.5 197.8,116.8 193.8,121.5 189.8,124.2 184.5,126.8 181.8,124.2 184.5,113.5 189.8,110.8 190.5,106.8 183.8,100.8 188.5,98.8 185.2,92.2 186.5,89.5 184.5,84.8Z" fill="#000"/></g>
</g>
<rect x="441" y="485" width="23.5" height="215" fill="url(#jet)" stroke="#262626" stroke-width="0.8"/>
<text x="474.9" y="503" font-size="19.5" font-weight="bold" fill="#262626" stroke="#262626" stroke-width="0.45" textLength="12.3" lengthAdjust="spacingAndGlyphs">4</text>
<text x="474.9" y="551.9" font-size="19.5" font-weight="bold" fill="#262626" stroke="#262626" stroke-width="0.45" textLength="12.3" lengthAdjust="spacingAndGlyphs">2</text>
<text x="474.9" y="600.7" font-size="19.5" font-weight="bold" fill="#262626" stroke="#262626" stroke-width="0.45" textLength="12.3" lengthAdjust="spacingAndGlyphs">0</text>
<text x="474" y="649.8" font-size="19.5" font-weight="bold" fill="#262626" stroke="#262626" stroke-width="0.45" textLength="20.9" lengthAdjust="spacingAndGlyphs">-2</text>
<text x="474" y="698.2" font-size="19.5" font-weight="bold" fill="#262626" stroke="#262626" stroke-width="0.45" textLength="20.9" lengthAdjust="spacingAndGlyphs">-4</text>
<path d="M464.5,543.4h-2.5" stroke="#262626" stroke-width="1"/>
<path d="M464.5,591.9h-2.5" stroke="#262626" stroke-width="1"/>
<path d="M464.5,641.2h-2.5" stroke="#262626" stroke-width="1"/>
<text x="130.1" y="731.1" font-size="23.5" font-weight="bold" fill="#262626" stroke="#262626" stroke-width="0.5" textLength="108.2" lengthAdjust="spacingAndGlyphs">SAT-RAP</text>
<text x="249" y="731.1" font-size="23.5" font-weight="bold" fill="#262626" stroke="#262626" stroke-width="0.5" textLength="46.9" lengthAdjust="spacingAndGlyphs">850</text>
<text x="305.2" y="731.1" font-size="23.5" font-weight="bold" fill="#262626" stroke="#262626" stroke-width="0.5" textLength="46.4" lengthAdjust="spacingAndGlyphs">hPa</text>
<text x="362.2" y="731.1" font-size="23.5" font-weight="bold" fill="#262626" stroke="#262626" stroke-width="0.5" textLength="37.5" lengthAdjust="spacingAndGlyphs">MR</text>
<text x="410.4" y="731.1" font-size="23.5" font-weight="bold" fill="#262626" stroke="#262626" stroke-width="0.5" textLength="74.2" lengthAdjust="spacingAndGlyphs">(g/kg)</text>
<text x="216" y="466.8" font-size="12.9" font-weight="bold" fill="#262626" stroke="#262626" stroke-width="0.3" textLength="24.4" lengthAdjust="spacingAndGlyphs">100</text>
<ellipse cx="245.2" cy="454.4" rx="1.8" ry="1.4" fill="none" stroke="#262626" stroke-width="1"/>
<text x="252.4" y="466.8" font-size="12.9" font-weight="bold" fill="#262626" stroke="#262626" stroke-width="0.3" textLength="13.2" lengthAdjust="spacingAndGlyphs">W</text>
<text x="284.6" y="466.8" font-size="12.9" font-weight="bold" fill="#262626" stroke="#262626" stroke-width="0.3" textLength="16" lengthAdjust="spacingAndGlyphs">90</text>
<ellipse cx="305" cy="454.4" rx="1.8" ry="1.4" fill="none" stroke="#262626" stroke-width="1"/>
<text x="313.6" y="466.8" font-size="12.9" font-weight="bold" fill="#262626" stroke="#262626" stroke-width="0.3" textLength="13" lengthAdjust="spacingAndGlyphs">W</text>
<text x="348.8" y="466.8" font-size="12.9" font-weight="bold" fill="#262626" stroke="#262626" stroke-width="0.3" textLength="16.8" lengthAdjust="spacingAndGlyphs">80</text>
<ellipse cx="370" cy="454.4" rx="1.8" ry="1.4" fill="none" stroke="#262626" stroke-width="1"/>
<text x="377.6" y="466.8" font-size="12.9" font-weight="bold" fill="#262626" stroke="#262626" stroke-width="0.3" textLength="13.2" lengthAdjust="spacingAndGlyphs">W</text>
<text x="412" y="466.8" font-size="12.9" font-weight="bold" fill="#262626" stroke="#262626" stroke-width="0.3" textLength="15.4" lengthAdjust="spacingAndGlyphs">70</text>
<ellipse cx="432" cy="454.4" rx="1.8" ry="1.4" fill="none" stroke="#262626" stroke-width="1"/>
<text x="440.6" y="466.8" font-size="12.9" font-weight="bold" fill="#262626" stroke="#262626" stroke-width="0.3" textLength="13.2" lengthAdjust="spacingAndGlyphs">W</text>
<text x="146.4" y="503.1" font-size="12.9" font-weight="bold" fill="#262626" stroke="#262626" stroke-width="0.3" textLength="15.8" lengthAdjust="spacingAndGlyphs">48</text>
<ellipse cx="167.7" cy="490" rx="1.8" ry="1.4" fill="none" stroke="#262626" stroke-width="1"/>
<text x="175.7" y="503.1" font-size="12.9" font-weight="bold" fill="#262626" stroke="#262626" stroke-width="0.3" textLength="9.3" lengthAdjust="spacingAndGlyphs">N</text>
<text x="146.4" y="520.9" font-size="12.9" font-weight="bold" fill="#262626" stroke="#262626" stroke-width="0.3" textLength="15.8" lengthAdjust="spacingAndGlyphs">46</text>
<ellipse cx="167.7" cy="507.8" rx="1.8" ry="1.4" fill="none" stroke="#262626" stroke-width="1"/>
<text x="175.7" y="520.9" font-size="12.9" font-weight="bold" fill="#262626" stroke="#262626" stroke-width="0.3" textLength="9.3" lengthAdjust="spacingAndGlyphs">N</text>
<text x="146.4" y="538.1" font-size="12.9" font-weight="bold" fill="#262626" stroke="#262626" stroke-width="0.3" textLength="15.8" lengthAdjust="spacingAndGlyphs">44</text>
<ellipse cx="167.7" cy="525" rx="1.8" ry="1.4" fill="none" stroke="#262626" stroke-width="1"/>
<text x="175.7" y="538.1" font-size="12.9" font-weight="bold" fill="#262626" stroke="#262626" stroke-width="0.3" textLength="9.3" lengthAdjust="spacingAndGlyphs">N</text>
<text x="146.4" y="556.9" font-size="12.9" font-weight="bold" fill="#262626" stroke="#262626" stroke-width="0.3" textLength="15.8" lengthAdjust="spacingAndGlyphs">42</text>
<ellipse cx="167.7" cy="543.8" rx="1.8" ry="1.4" fill="none" stroke="#262626" stroke-width="1"/>
<text x="175.7" y="556.9" font-size="12.9" font-weight="bold" fill="#262626" stroke="#262626" stroke-width="0.3" textLength="9.3" lengthAdjust="spacingAndGlyphs">N</text>
<text x="146.4" y="572.6" font-size="12.9" font-weight="bold" fill="#262626" stroke="#262626" stroke-width="0.3" textLength="15.8" lengthAdjust="spacingAndGlyphs">40</text>
<ellipse cx="167.7" cy="559.5" rx="1.8" ry="1.4" fill="none" stroke="#262626" stroke-width="1"/>
<text x="175.7" y="572.6" font-size="12.9" font-weight="bold" fill="#262626" stroke="#262626" stroke-width="0.3" textLength="9.3" lengthAdjust="spacingAndGlyphs">N</text>
<text x="146.4" y="588.3" font-size="12.9" font-weight="bold" fill="#262626" stroke="#262626" stroke-width="0.3" textLength="15.8" lengthAdjust="spacingAndGlyphs">38</text>
<ellipse cx="167.7" cy="575.2" rx="1.8" ry="1.4" fill="none" stroke="#262626" stroke-width="1"/>
<text x="175.7" y="588.3" font-size="12.9" font-weight="bold" fill="#262626" stroke="#262626" stroke-width="0.3" textLength="9.3" lengthAdjust="spacingAndGlyphs">N</text>
<text x="146.4" y="604.7" font-size="12.9" font-weight="bold" fill="#262626" stroke="#262626" stroke-width="0.3" textLength="15.8" lengthAdjust="spacingAndGlyphs">36</text>
<ellipse cx="167.7" cy="591.6" rx="1.8" ry="1.4" fill="none" stroke="#262626" stroke-width="1"/>
<text x="175.7" y="604.7" font-size="12.9" font-weight="bold" fill="#262626" stroke="#262626" stroke-width="0.3" textLength="9.3" lengthAdjust="spacingAndGlyphs">N</text>
<text x="146.4" y="619.2" font-size="12.9" font-weight="bold" fill="#262626" stroke="#262626" stroke-width="0.3" textLength="15.8" lengthAdjust="spacingAndGlyphs">34</text>
<ellipse cx="167.7" cy="606.1" rx="1.8" ry="1.4" fill="none" stroke="#262626" stroke-width="1"/>
<text x="175.7" y="619.2" font-size="12.9" font-weight="bold" fill="#262626" stroke="#262626" stroke-width="0.3" textLength="9.3" lengthAdjust="spacingAndGlyphs">N</text>
<text x="146.4" y="636.3" font-size="12.9" font-weight="bold" fill="#262626" stroke="#262626" stroke-width="0.3" textLength="15.8" lengthAdjust="spacingAndGlyphs">32</text>
<ellipse cx="167.7" cy="623.2" rx="1.8" ry="1.4" fill="none" stroke="#262626" stroke-width="1"/>
<text x="175.7" y="636.3" font-size="12.9" font-weight="bold" fill="#262626" stroke="#262626" stroke-width="0.3" textLength="9.3" lengthAdjust="spacingAndGlyphs">N</text>
<text x="146.4" y="650.1" font-size="12.9" font-weight="bold" fill="#262626" stroke="#262626" stroke-width="0.3" textLength="15.8" lengthAdjust="spacingAndGlyphs">30</text>
<ellipse cx="167.7" cy="637" rx="1.8" ry="1.4" fill="none" stroke="#262626" stroke-width="1"/>
<text x="175.7" y="650.1" font-size="12.9" font-weight="bold" fill="#262626" stroke="#262626" stroke-width="0.3" textLength="9.3" lengthAdjust="spacingAndGlyphs">N</text>
<text x="146.4" y="663.3" font-size="12.9" font-weight="bold" fill="#262626" stroke="#262626" stroke-width="0.3" textLength="15.8" lengthAdjust="spacingAndGlyphs">28</text>
<ellipse cx="167.7" cy="650.2" rx="1.8" ry="1.4" fill="none" stroke="#262626" stroke-width="1"/>
<text x="175.7" y="663.3" font-size="12.9" font-weight="bold" fill="#262626" stroke="#262626" stroke-width="0.3" textLength="9.3" lengthAdjust="spacingAndGlyphs">N</text>
<text x="146.4" y="677.9" font-size="12.9" font-weight="bold" fill="#262626" stroke="#262626" stroke-width="0.3" textLength="15.8" lengthAdjust="spacingAndGlyphs">26</text>
<ellipse cx="167.7" cy="664.8" rx="1.8" ry="1.4" fill="none" stroke="#262626" stroke-width="1"/>
<text x="175.7" y="677.9" font-size="12.9" font-weight="bold" fill="#262626" stroke="#262626" stroke-width="0.3" textLength="9.3" lengthAdjust="spacingAndGlyphs">N</text>
<text x="146.4" y="691.9" font-size="12.9" font-weight="bold" fill="#262626" stroke="#262626" stroke-width="0.3" textLength="15.8" lengthAdjust="spacingAndGlyphs">24</text>
<ellipse cx="167.7" cy="678.8" rx="1.8" ry="1.4" fill="none" stroke="#262626" stroke-width="1"/>
<text x="175.7" y="691.9" font-size="12.9" font-weight="bold" fill="#262626" stroke="#262626" stroke-width="0.3" textLength="9.3" lengthAdjust="spacingAndGlyphs">N</text>
<text x="146.4" y="705.1" font-size="12.9" font-weight="bold" fill="#262626" stroke="#262626" stroke-width="0.3" textLength="15.8" lengthAdjust="spacingAndGlyphs">22</text>
<ellipse cx="167.7" cy="692" rx="1.8" ry="1.4" fill="none" stroke="#262626" stroke-width="1"/>
<text x="175.7" y="705.1" font-size="12.9" font-weight="bold" fill="#262626" stroke="#262626" stroke-width="0.3" textLength="9.3" lengthAdjust="spacingAndGlyphs">N</text>
<defs><clipPath id="swp5"><path d="M-1.5,-2.5 156.5,-2.5 162,50 168.2,104 176.1,160.2 181,215 43.5,215 38,197.8 27.6,166.9 17.3,136 6,105 -1.5,80.5Z"/><circle cx="1" cy="-2.2" r="2.7"/><circle cx="6.3" cy="-2.2" r="2.7"/><circle cx="11.6" cy="-2.2" r="2.7"/><circle cx="16.9" cy="-2.2" r="2.7"/><circle cx="22.2" cy="-2.2" r="2.7"/><circle cx="27.5" cy="-2.2" r="2.7"/><circle cx="32.8" cy="-2.2" r="2.7"/><circle cx="38.1" cy="-2.2" r="2.7"/><circle cx="43.4" cy="-2.2" r="2.7"/><circle cx="48.7" cy="-2.2" r="2.7"/><circle cx="54" cy="-2.2" r="2.7"/><circle cx="59.3" cy="-2.2" r="2.7"/><circle cx="64.6" cy="-2.2" r="2.7"/><circle cx="69.9" cy="-2.2" r="2.7"/><circle cx="75.2" cy="-2.2" r="2.7"/><circle cx="80.5" cy="-2.2" r="2.7"/><circle cx="85.8" cy="-2.2" r="2.7"/><circle cx="91.1" cy="-2.2" r="2.7"/><circle cx="96.4" cy="-2.2" r="2.7"/><circle cx="101.7" cy="-2.2" r="2.7"/><circle cx="107" cy="-2.2" r="2.7"/><circle cx="112.3" cy="-2.2" r="2.7"/><circle cx="117.6" cy="-2.2" r="2.7"/><circle cx="122.9" cy="-2.2" r="2.7"/><circle cx="128.2" cy="-2.2" r="2.7"/><circle cx="133.5" cy="-2.2" r="2.7"/><circle cx="138.8" cy="-2.2" r="2.7"/><circle cx="144.1" cy="-2.2" r="2.7"/><circle cx="149.4" cy="-2.2" r="2.7"/><circle cx="154.7" cy="-2.2" r="2.7"/><circle cx="46" cy="214.6" r="2.5"/><circle cx="51.3" cy="214.6" r="2.5"/><circle cx="56.6" cy="214.6" r="2.5"/><circle cx="61.9" cy="214.6" r="2.5"/><circle cx="67.2" cy="214.6" r="2.5"/><circle cx="72.5" cy="214.6" r="2.5"/><circle cx="77.8" cy="214.6" r="2.5"/><circle cx="83.1" cy="214.6" r="2.5"/><circle cx="88.4" cy="214.6" r="2.5"/><circle cx="93.7" cy="214.6" r="2.5"/><circle cx="99" cy="214.6" r="2.5"/><circle cx="104.3" cy="214.6" r="2.5"/><circle cx="109.6" cy="214.6" r="2.5"/><circle cx="114.9" cy="214.6" r="2.5"/><circle cx="120.2" cy="214.6" r="2.5"/><circle cx="125.5" cy="214.6" r="2.5"/><circle cx="130.8" cy="214.6" r="2.5"/><circle cx="136.1" cy="214.6" r="2.5"/><circle cx="141.4" cy="214.6" r="2.5"/><circle cx="146.7" cy="214.6" r="2.5"/><circle cx="152" cy="214.6" r="2.5"/><circle cx="157.3" cy="214.6" r="2.5"/><circle cx="162.6" cy="214.6" r="2.5"/><circle cx="167.9" cy="214.6" r="2.5"/><circle cx="173.2" cy="214.6" r="2.5"/><circle cx="178.5" cy="214.6" r="2.5"/><circle cx="-1.2" cy="1" r="2.4"/><circle cx="-1.2" cy="6.3" r="2.4"/><circle cx="-1.2" cy="11.6" r="2.4"/><circle cx="-1.2" cy="16.9" r="2.4"/><circle cx="-1.2" cy="22.2" r="2.4"/><circle cx="-1.2" cy="27.5" r="2.4"/><circle cx="-1.2" cy="32.8" r="2.4"/><circle cx="-1.2" cy="38.1" r="2.4"/><circle cx="-1.2" cy="43.4" r="2.4"/><circle cx="-1.2" cy="48.7" r="2.4"/><circle cx="-1.2" cy="54" r="2.4"/><circle cx="-1.2" cy="59.3" r="2.4"/><circle cx="-1.2" cy="64.6" r="2.4"/><circle cx="-1.2" cy="69.9" r="2.4"/><circle cx="-1.2" cy="75.2" r="2.4"/></clipPath><filter id="jfp5" x="-20" y="-20" width="230" height="260" filterUnits="userSpaceOnUse" color-interpolation-filters="sRGB">
<feGaussianBlur in="SourceGraphic" stdDeviation="3.2" result="b"/>
<feTurbulence type="fractalNoise" baseFrequency="0.12 0.16" numOctaves="2" seed="7" result="t"/>
<feColorMatrix in="t" type="matrix" values="1 0 0 0 0 1 0 0 0 0 1 0 0 0 0 0 0 0 0 1" result="n"/>
<feComposite in="b" in2="n" operator="arithmetic" k1="0" k2="1" k3="0.12" k4="-0.06" result="v"/>
<feComponentTransfer in="v">
<feFuncR type="table" tableValues="0 0 0 0 0.5 1 1 1 0.5"/>
<feFuncG type="table" tableValues="0 0 0.5 1 1 1 0.5 0 0"/>
<feFuncB type="table" tableValues="0.56 1 1 1 0.5 0 0 0 0"/>
<feFuncA type="table" tableValues="0 1 1"/>
</feComponentTransfer>
</filter></defs>
<g transform="translate(616.5,486.5) scale(1.00000,1.00000)">
<rect x="0" y="0" width="234" height="213" fill="#fff" stroke="#262626" stroke-width="1"/>
<g clip-path="url(#swp5)"><g filter="url(#jfp5)">
<rect x="-20" y="-20" width="230" height="260" fill="#757575"/><rect x="-5" y="40" width="25" height="32" fill="#999999"/><ellipse cx="8" cy="66" rx="5" ry="4" fill="#d9d9d9"/><rect x="-5" y="72" width="37" height="31" fill="#b2b2b2"/><ellipse cx="10" cy="85" rx="5" ry="4" fill="#dedede"/><ellipse cx="20" cy="95" rx="4" ry="3" fill="#d9d9d9"/><ellipse cx="5" cy="95" rx="4" ry="3" fill="#666666"/><rect x="21" y="-5" width="43" height="33" fill="#737373"/><rect x="61" y="-5" width="29" height="33" fill="#adadad"/><ellipse cx="80" cy="2" rx="4" ry="3" fill="#f2f2f2"/><ellipse cx="82" cy="18" rx="4" ry="3" fill="#d1d1d1"/><rect x="21" y="28" width="46" height="26" fill="#737373"/><rect x="21" y="56" width="57" height="22" fill="#8c8c8c"/><rect x="21" y="56" width="24" height="22" fill="#b8b8b8"/><rect x="32" y="79" width="23" height="24" fill="#a6a6a6"/><rect x="55" y="79" width="23" height="24" fill="#737373"/><rect x="78" y="-5" width="82" height="24" fill="#8f8f8f"/><rect x="70" y="51" width="30" height="24" fill="#808080"/><rect x="75" y="75" width="31" height="31" fill="#7a7a7a"/><ellipse cx="89" cy="88" rx="4" ry="5" fill="#cccccc"/><rect x="89" y="19" width="36" height="42" fill="#8c8c8c"/><rect x="125" y="19" width="27" height="46" fill="#858585"/><rect x="152" y="30" width="13" height="50" fill="#4c4c4c"/><rect x="100" y="58" width="23" height="45" fill="#8c8c8c"/><rect x="123" y="65" width="17" height="30" fill="#adadad"/><rect x="140" y="65" width="18" height="35" fill="#737373"/><rect x="158" y="65" width="12" height="35" fill="#4c4c4c"/><ellipse cx="162" cy="88" rx="4" ry="4" fill="#e6e6e6"/><rect x="106" y="97" width="66" height="23" fill="#787878"/><rect x="44" y="106" width="42" height="25" fill="#787878"/><rect x="0" y="103" width="44" height="39" fill="#808080"/><rect x="25" y="131" width="61" height="56" fill="#737373"/><rect x="86" y="106" width="20" height="29" fill="#666666"/><rect x="100" y="120" width="20" height="33" fill="#616161"/><rect x="120" y="120" width="17" height="33" fill="#6b6b6b"/><rect x="137" y="120" width="28" height="33" fill="#737373"/><rect x="44" y="159" width="68" height="57" fill="#787878"/><ellipse cx="45" cy="198" rx="5" ry="11" fill="#262626"/><rect x="103" y="158" width="33" height="42" fill="#858585"/><rect x="103" y="200" width="32" height="16" fill="#4c4c4c"/><path d="M154,158 172,158 176,195 160,196 Z" fill="#121212"/><path d="M136,168 152,168 162,196 160,216 132,216 Z" fill="#1f1f1f"/><ellipse cx="148" cy="185" rx="5" ry="6" fill="#525252"/><ellipse cx="168" cy="145" rx="5" ry="8" fill="#8c8c8c"/><rect x="60" y="210" width="43" height="6" fill="#616161"/>
</g>
<g filter="url(#sb)"><ellipse cx="89" cy="88" rx="5" ry="4" fill="#a80000" transform="rotate(30 89 88)"/><ellipse cx="86" cy="92" rx="4" ry="3" fill="#a80000" transform="rotate(-30 86 92)"/><ellipse cx="92" cy="84" rx="3" ry="3" fill="#b20000"/><ellipse cx="84" cy="85" rx="3" ry="2" fill="#e50000"/><ellipse cx="165.5" cy="193" rx="3" ry="3" fill="#ff6000"/><ellipse cx="168" cy="151" rx="3" ry="2" fill="#ff4c00"/><ellipse cx="163" cy="92" rx="3.5" ry="3.5" fill="#e50000"/><ellipse cx="150" cy="89" rx="3" ry="2.5" fill="#ff1900"/><ellipse cx="127" cy="81" rx="3" ry="2" fill="#ff1900"/><ellipse cx="131" cy="89" rx="2.5" ry="2" fill="#ff4c00"/><ellipse cx="136" cy="84" rx="2.5" ry="2" fill="#ff7f00"/><ellipse cx="146" cy="80" rx="3" ry="2" fill="#f9ff05"/><ellipse cx="135.6" cy="211.7" rx="1.8" ry="1.4" fill="#0000b2"/><ellipse cx="161.9" cy="181.9" rx="2.2" ry="1.7" fill="#0000e5"/><ellipse cx="153.6" cy="185.8" rx="2.3" ry="1.8" fill="#0000e5"/><ellipse cx="171.6" cy="203.6" rx="1.6" ry="1.0" fill="#00e5ff"/><ellipse cx="152.5" cy="168.7" rx="2.4" ry="1.4" fill="#0000e5"/><ellipse cx="141.3" cy="191.1" rx="3.0" ry="1.7" fill="#00e5ff"/><ellipse cx="148.4" cy="182.1" rx="3.2" ry="1.7" fill="#0000e5"/><ellipse cx="144.4" cy="184.7" rx="1.9" ry="1.3" fill="#00e5ff"/><ellipse cx="140.8" cy="193.5" rx="2.4" ry="1.5" fill="#00e5ff"/><ellipse cx="165.1" cy="201.0" rx="3.2" ry="2.3" fill="#0000b2"/><ellipse cx="148.0" cy="198.2" rx="1.7" ry="0.9" fill="#e5ff19"/><ellipse cx="143.9" cy="180.4" rx="1.7" ry="1.1" fill="#0000e5"/><ellipse cx="151.9" cy="171.2" rx="2.0" ry="1.3" fill="#e5ff19"/><ellipse cx="141.0" cy="193.7" rx="2.4" ry="1.4" fill="#e5ff19"/><ellipse cx="134.3" cy="179.0" rx="2.8" ry="2.5" fill="#0000e5"/><ellipse cx="144.9" cy="184.3" rx="3.3" ry="1.7" fill="#e5ff19"/><ellipse cx="160.5" cy="177.2" rx="2.2" ry="1.6" fill="#0000e5"/><ellipse cx="142.7" cy="190.5" rx="2.8" ry="2.4" fill="#00e5ff"/><ellipse cx="105.3" cy="184.5" rx="1.5" ry="1.1" fill="#e5ff19"/><ellipse cx="113.0" cy="197.1" rx="2.5" ry="2.1" fill="#f9ff05"/><ellipse cx="130.8" cy="170.5" rx="2.9" ry="1.9" fill="#e5ff19"/><ellipse cx="134.3" cy="186.6" rx="2.6" ry="2.0" fill="#19ffe5"/><ellipse cx="111.9" cy="186.4" rx="1.7" ry="0.9" fill="#e5ff19"/><ellipse cx="121.2" cy="170.1" rx="2.4" ry="1.6" fill="#f9ff05"/><ellipse cx="122.3" cy="177.0" rx="2.3" ry="1.4" fill="#e5ff19"/><ellipse cx="116.3" cy="172.2" rx="2.2" ry="1.7" fill="#e5ff19"/><ellipse cx="104.6" cy="177.8" rx="2.4" ry="1.6" fill="#f9ff05"/><ellipse cx="126.0" cy="183.1" rx="1.5" ry="0.8" fill="#e5ff19"/><ellipse cx="114.8" cy="177.1" rx="2.4" ry="1.5" fill="#e5ff19"/><ellipse cx="124.9" cy="169.5" rx="2.5" ry="1.7" fill="#19ffe5"/><ellipse cx="29.1" cy="80.2" rx="2.2" ry="1.6" fill="#19ffe5"/><ellipse cx="22.7" cy="59.3" rx="2.4" ry="1.5" fill="#f9ff05"/><ellipse cx="29.8" cy="64.3" rx="2.6" ry="1.5" fill="#b20000"/><ellipse cx="14.6" cy="56.4" rx="1.7" ry="1.5" fill="#b20000"/><ellipse cx="7.3" cy="63.8" rx="1.8" ry="1.0" fill="#19ffe5"/><ellipse cx="8.1" cy="85.2" rx="1.6" ry="0.9" fill="#b20000"/><ellipse cx="9.8" cy="61.1" rx="2.2" ry="1.7" fill="#e50000"/><ellipse cx="21.4" cy="56.6" rx="2.1" ry="1.8" fill="#e50000"/><ellipse cx="18.2" cy="59.4" rx="2.2" ry="1.7" fill="#19ffe5"/><ellipse cx="24.8" cy="63.7" rx="2.2" ry="1.5" fill="#e50000"/><ellipse cx="22.1" cy="64.5" rx="2.0" ry="1.6" fill="#b20000"/><ellipse cx="5.2" cy="68.6" rx="2.4" ry="1.6" fill="#b20000"/><ellipse cx="5.7" cy="92.3" rx="2.8" ry="1.6" fill="#e50000"/><ellipse cx="6.2" cy="81.1" rx="2.5" ry="1.5" fill="#19ffe5"/></g>
</g>
<path d="M-5,-5 21,-5 21,45 -5,45 Z" fill="#fff"/><path d="M-5,103 11,103 11,140 -5,140 Z" fill="#fff"/><path d="M21,-5 36,-5 36,28 21,28 Z" fill="#fff"/><path d="M66,30 86,30 86,56 66,56 Z" fill="#fff"/><ellipse cx="67" cy="112" rx="8" ry="5" fill="#fff"/><ellipse cx="78" cy="40" rx="5" ry="12" fill="#fff"/><ellipse cx="74" cy="44" rx="8" ry="11" fill="#fff"/><ellipse cx="63" cy="63" rx="5" ry="4" fill="#fff"/><ellipse cx="24" cy="34" rx="4" ry="5" fill="#fff"/><ellipse cx="36" cy="30" rx="3" ry="3" fill="#fff"/><ellipse cx="50" cy="50" rx="3" ry="3" fill="#fff"/><ellipse cx="60" cy="40" rx="5" ry="10" fill="#fff"/><ellipse cx="45" cy="44" rx="3" ry="3" fill="#fff"/><circle cx="1.5" cy="5.0" r="3.2" fill="#007fff"/><circle cx="1.5" cy="9.9" r="3.2" fill="#007fff"/><circle cx="78.3" cy="52.5" r="3.2" fill="#4cffb2"/><circle cx="76.0" cy="43.1" r="3.2" fill="#7fff7f"/><circle cx="76.4" cy="48.9" r="3.2" fill="#7fff7f"/><circle cx="66.6" cy="53.4" r="3.2" fill="#b2ff4c"/><circle cx="85.6" cy="39.9" r="3.2" fill="#b2ff4c"/><circle cx="38.4" cy="32.7" r="3.2" fill="#e5ff19"/><circle cx="26.7" cy="47.8" r="3.2" fill="#00e5ff"/><circle cx="28.2" cy="38.9" r="3.2" fill="#e5ff19"/><circle cx="34.9" cy="47.5" r="3.2" fill="#19ffe5"/><circle cx="174" cy="186" r="4.5" fill="#00b2ff"/><circle cx="176" cy="194" r="4.5" fill="#7fff7f"/><circle cx="178" cy="202" r="4.5" fill="#00b2ff"/><circle cx="179" cy="209" r="4" fill="#0000f9"/><circle cx="172" cy="178" r="4" fill="#004cff"/>
<g clip-path="url(#fc)"><use href="#st"/><path d="M205.8,68.3 208,67 210.5,63.7 212.5,62.1 234,61.7 234,67.7 228.5,69.5 222.5,71 219,76.8 216.9,74.5 211.5,75.5 209.2,77.5 208.8,81.1 206.3,85.7 204.1,88.5 205.5,82.5 206.5,75.5 206,70.5Z M213,64.7 220.5,64.5 220.3,66.9 213,67.1Z" fill="#000" fill-rule="evenodd"/><path d="M186.5,83.5 195.8,80.2 200.5,79.5 204.5,77.5 205,82.8 203.2,88.2 201.8,95.5 199.2,100.2 197.2,103.5 197.8,108.2 200.5,114.8 201.2,119.5 197.8,116.8 193.8,121.5 189.8,124.2 184.5,126.8 181.8,124.2 184.5,113.5 189.8,110.8 190.5,106.8 183.8,100.8 188.5,98.8 185.2,92.2 186.5,89.5 184.5,84.8Z" fill="#000"/></g>
</g>
<rect x="862" y="485" width="23.5" height="215" fill="url(#jet)" stroke="#262626" stroke-width="0.8"/>
<text x="894.9" y="496" font-size="19.5" font-weight="bold" fill="#262626" stroke="#262626" stroke-width="0.45" textLength="12.8" lengthAdjust="spacingAndGlyphs">2</text>
<text x="894.9" y="549" font-size="19.5" font-weight="bold" fill="#262626" stroke="#262626" stroke-width="0.45" textLength="12.8" lengthAdjust="spacingAndGlyphs">1</text>
<text x="894.9" y="601" font-size="19.5" font-weight="bold" fill="#262626" stroke="#262626" stroke-width="0.45" textLength="12.8" lengthAdjust="spacingAndGlyphs">0</text>
<text x="894" y="653.7" font-size="19.5" font-weight="bold" fill="#262626" stroke="#262626" stroke-width="0.45" textLength="21.9" lengthAdjust="spacingAndGlyphs">-1</text>
<text x="894" y="706.5" font-size="19.5" font-weight="bold" fill="#262626" stroke="#262626" stroke-width="0.45" textLength="21.9" lengthAdjust="spacingAndGlyphs">-2</text>
<path d="M885.5,540h-2.5" stroke="#262626" stroke-width="1"/>
<path d="M885.5,592h-2.5" stroke="#262626" stroke-width="1"/>
<path d="M885.5,644h-2.5" stroke="#262626" stroke-width="1"/>
<text x="551.3" y="731.1" font-size="23.5" font-weight="bold" fill="#262626" stroke="#262626" stroke-width="0.5" textLength="108.2" lengthAdjust="spacingAndGlyphs">SAT-RAP</text>
<text x="670.2" y="731.1" font-size="23.5" font-weight="bold" fill="#262626" stroke="#262626" stroke-width="0.5" textLength="46.9" lengthAdjust="spacingAndGlyphs">700</text>
<text x="726.4" y="731.1" font-size="23.5" font-weight="bold" fill="#262626" stroke="#262626" stroke-width="0.5" textLength="46.4" lengthAdjust="spacingAndGlyphs">hPa</text>
<text x="783.4" y="731.1" font-size="23.5" font-weight="bold" fill="#262626" stroke="#262626" stroke-width="0.5" textLength="37.5" lengthAdjust="spacingAndGlyphs">MR</text>
<text x="831.6" y="731.1" font-size="23.5" font-weight="bold" fill="#262626" stroke="#262626" stroke-width="0.5" textLength="74.2" lengthAdjust="spacingAndGlyphs">(g/kg)</text>
<text x="637" y="466.8" font-size="12.9" font-weight="bold" fill="#262626" stroke="#262626" stroke-width="0.3" textLength="24.4" lengthAdjust="spacingAndGlyphs">100</text>
<ellipse cx="666.2" cy="454.4" rx="1.8" ry="1.4" fill="none" stroke="#262626" stroke-width="1"/>
<text x="673.4" y="466.8" font-size="12.9" font-weight="bold" fill="#262626" stroke="#262626" stroke-width="0.3" textLength="13.2" lengthAdjust="spacingAndGlyphs">W</text>
<text x="705.6" y="466.8" font-size="12.9" font-weight="bold" fill="#262626" stroke="#262626" stroke-width="0.3" textLength="16" lengthAdjust="spacingAndGlyphs">90</text>
<ellipse cx="726" cy="454.4" rx="1.8" ry="1.4" fill="none" stroke="#262626" stroke-width="1"/>
<text x="734.6" y="466.8" font-size="12.9" font-weight="bold" fill="#262626" stroke="#262626" stroke-width="0.3" textLength="13" lengthAdjust="spacingAndGlyphs">W</text>
<text x="769.8" y="466.8" font-size="12.9" font-weight="bold" fill="#262626" stroke="#262626" stroke-width="0.3" textLength="16.8" lengthAdjust="spacingAndGlyphs">80</text>
<ellipse cx="791" cy="454.4" rx="1.8" ry="1.4" fill="none" stroke="#262626" stroke-width="1"/>
<text x="798.6" y="466.8" font-size="12.9" font-weight="bold" fill="#262626" stroke="#262626" stroke-width="0.3" textLength="13.2" lengthAdjust="spacingAndGlyphs">W</text>
<text x="833" y="466.8" font-size="12.9" font-weight="bold" fill="#262626" stroke="#262626" stroke-width="0.3" textLength="15.4" lengthAdjust="spacingAndGlyphs">70</text>
<ellipse cx="853" cy="454.4" rx="1.8" ry="1.4" fill="none" stroke="#262626" stroke-width="1"/>
<text x="861.6" y="466.8" font-size="12.9" font-weight="bold" fill="#262626" stroke="#262626" stroke-width="0.3" textLength="13.2" lengthAdjust="spacingAndGlyphs">W</text>
<text x="567.4" y="503.1" font-size="12.9" font-weight="bold" fill="#262626" stroke="#262626" stroke-width="0.3" textLength="15.8" lengthAdjust="spacingAndGlyphs">48</text>
<ellipse cx="588.7" cy="490" rx="1.8" ry="1.4" fill="none" stroke="#262626" stroke-width="1"/>
<text x="596.7" y="503.1" font-size="12.9" font-weight="bold" fill="#262626" stroke="#262626" stroke-width="0.3" textLength="9.3" lengthAdjust="spacingAndGlyphs">N</text>
<text x="567.4" y="520.9" font-size="12.9" font-weight="bold" fill="#262626" stroke="#262626" stroke-width="0.3" textLength="15.8" lengthAdjust="spacingAndGlyphs">46</text>
<ellipse cx="588.7" cy="507.8" rx="1.8" ry="1.4" fill="none" stroke="#262626" stroke-width="1"/>
<text x="596.7" y="520.9" font-size="12.9" font-weight="bold" fill="#262626" stroke="#262626" stroke-width="0.3" textLength="9.3" lengthAdjust="spacingAndGlyphs">N</text>
<text x="567.4" y="538.1" font-size="12.9" font-weight="bold" fill="#262626" stroke="#262626" stroke-width="0.3" textLength="15.8" lengthAdjust="spacingAndGlyphs">44</text>
<ellipse cx="588.7" cy="525" rx="1.8" ry="1.4" fill="none" stroke="#262626" stroke-width="1"/>
<text x="596.7" y="538.1" font-size="12.9" font-weight="bold" fill="#262626" stroke="#262626" stroke-width="0.3" textLength="9.3" lengthAdjust="spacingAndGlyphs">N</text>
<text x="567.4" y="556.9" font-size="12.9" font-weight="bold" fill="#262626" stroke="#262626" stroke-width="0.3" textLength="15.8" lengthAdjust="spacingAndGlyphs">42</text>
<ellipse cx="588.7" cy="543.8" rx="1.8" ry="1.4" fill="none" stroke="#262626" stroke-width="1"/>
<text x="596.7" y="556.9" font-size="12.9" font-weight="bold" fill="#262626" stroke="#262626" stroke-width="0.3" textLength="9.3" lengthAdjust="spacingAndGlyphs">N</text>
<text x="567.4" y="572.6" font-size="12.9" font-weight="bold" fill="#262626" stroke="#262626" stroke-width="0.3" textLength="15.8" lengthAdjust="spacingAndGlyphs">40</text>
<ellipse cx="588.7" cy="559.5" rx="1.8" ry="1.4" fill="none" stroke="#262626" stroke-width="1"/>
<text x="596.7" y="572.6" font-size="12.9" font-weight="bold" fill="#262626" stroke="#262626" stroke-width="0.3" textLength="9.3" lengthAdjust="spacingAndGlyphs">N</text>
<text x="567.4" y="588.3" font-size="12.9" font-weight="bold" fill="#262626" stroke="#262626" stroke-width="0.3" textLength="15.8" lengthAdjust="spacingAndGlyphs">38</text>
<ellipse cx="588.7" cy="575.2" rx="1.8" ry="1.4" fill="none" stroke="#262626" stroke-width="1"/>
<text x="596.7" y="588.3" font-size="12.9" font-weight="bold" fill="#262626" stroke="#262626" stroke-width="0.3" textLength="9.3" lengthAdjust="spacingAndGlyphs">N</text>
<text x="567.4" y="604.7" font-size="12.9" font-weight="bold" fill="#262626" stroke="#262626" stroke-width="0.3" textLength="15.8" lengthAdjust="spacingAndGlyphs">36</text>
<ellipse cx="588.7" cy="591.6" rx="1.8" ry="1.4" fill="none" stroke="#262626" stroke-width="1"/>
<text x="596.7" y="604.7" font-size="12.9" font-weight="bold" fill="#262626" stroke="#262626" stroke-width="0.3" textLength="9.3" lengthAdjust="spacingAndGlyphs">N</text>
<text x="567.4" y="619.2" font-size="12.9" font-weight="bold" fill="#262626" stroke="#262626" stroke-width="0.3" textLength="15.8" lengthAdjust="spacingAndGlyphs">34</text>
<ellipse cx="588.7" cy="606.1" rx="1.8" ry="1.4" fill="none" stroke="#262626" stroke-width="1"/>
<text x="596.7" y="619.2" font-size="12.9" font-weight="bold" fill="#262626" stroke="#262626" stroke-width="0.3" textLength="9.3" lengthAdjust="spacingAndGlyphs">N</text>
<text x="567.4" y="636.3" font-size="12.9" font-weight="bold" fill="#262626" stroke="#262626" stroke-width="0.3" textLength="15.8" lengthAdjust="spacingAndGlyphs">32</text>
<ellipse cx="588.7" cy="623.2" rx="1.8" ry="1.4" fill="none" stroke="#262626" stroke-width="1"/>
<text x="596.7" y="636.3" font-size="12.9" font-weight="bold" fill="#262626" stroke="#262626" stroke-width="0.3" textLength="9.3" lengthAdjust="spacingAndGlyphs">N</text>
<text x="567.4" y="650.1" font-size="12.9" font-weight="bold" fill="#262626" stroke="#262626" stroke-width="0.3" textLength="15.8" lengthAdjust="spacingAndGlyphs">30</text>
<ellipse cx="588.7" cy="637" rx="1.8" ry="1.4" fill="none" stroke="#262626" stroke-width="1"/>
<text x="596.7" y="650.1" font-size="12.9" font-weight="bold" fill="#262626" stroke="#262626" stroke-width="0.3" textLength="9.3" lengthAdjust="spacingAndGlyphs">N</text>
<text x="567.4" y="663.3" font-size="12.9" font-weight="bold" fill="#262626" stroke="#262626" stroke-width="0.3" textLength="15.8" lengthAdjust="spacingAndGlyphs">28</text>
<ellipse cx="588.7" cy="650.2" rx="1.8" ry="1.4" fill="none" stroke="#262626" stroke-width="1"/>
<text x="596.7" y="663.3" font-size="12.9" font-weight="bold" fill="#262626" stroke="#262626" stroke-width="0.3" textLength="9.3" lengthAdjust="spacingAndGlyphs">N</text>
<text x="567.4" y="677.9" font-size="12.9" font-weight="bold" fill="#262626" stroke="#262626" stroke-width="0.3" textLength="15.8" lengthAdjust="spacingAndGlyphs">26</text>
<ellipse cx="588.7" cy="664.8" rx="1.8" ry="1.4" fill="none" stroke="#262626" stroke-width="1"/>
<text x="596.7" y="677.9" font-size="12.9" font-weight="bold" fill="#262626" stroke="#262626" stroke-width="0.3" textLength="9.3" lengthAdjust="spacingAndGlyphs">N</text>
<text x="567.4" y="691.9" font-size="12.9" font-weight="bold" fill="#262626" stroke="#262626" stroke-width="0.3" textLength="15.8" lengthAdjust="spacingAndGlyphs">24</text>
<ellipse cx="588.7" cy="678.8" rx="1.8" ry="1.4" fill="none" stroke="#262626" stroke-width="1"/>
<text x="596.7" y="691.9" font-size="12.9" font-weight="bold" fill="#262626" stroke="#262626" stroke-width="0.3" textLength="9.3" lengthAdjust="spacingAndGlyphs">N</text>
<text x="567.4" y="705.1" font-size="12.9" font-weight="bold" fill="#262626" stroke="#262626" stroke-width="0.3" textLength="15.8" lengthAdjust="spacingAndGlyphs">22</text>
<ellipse cx="588.7" cy="692" rx="1.8" ry="1.4" fill="none" stroke="#262626" stroke-width="1"/>
<text x="596.7" y="705.1" font-size="12.9" font-weight="bold" fill="#262626" stroke="#262626" stroke-width="0.3" textLength="9.3" lengthAdjust="spacingAndGlyphs">N</text>
<defs><clipPath id="swp6"><path d="M-1.5,-2.5 156.5,-2.5 162,50 168.2,104 176.1,160.2 181,215 43.5,215 38,197.8 27.6,166.9 17.3,136 6,105 -1.5,80.5Z"/><circle cx="1" cy="-2.2" r="2.7"/><circle cx="6.3" cy="-2.2" r="2.7"/><circle cx="11.6" cy="-2.2" r="2.7"/><circle cx="16.9" cy="-2.2" r="2.7"/><circle cx="22.2" cy="-2.2" r="2.7"/><circle cx="27.5" cy="-2.2" r="2.7"/><circle cx="32.8" cy="-2.2" r="2.7"/><circle cx="38.1" cy="-2.2" r="2.7"/><circle cx="43.4" cy="-2.2" r="2.7"/><circle cx="48.7" cy="-2.2" r="2.7"/><circle cx="54" cy="-2.2" r="2.7"/><circle cx="59.3" cy="-2.2" r="2.7"/><circle cx="64.6" cy="-2.2" r="2.7"/><circle cx="69.9" cy="-2.2" r="2.7"/><circle cx="75.2" cy="-2.2" r="2.7"/><circle cx="80.5" cy="-2.2" r="2.7"/><circle cx="85.8" cy="-2.2" r="2.7"/><circle cx="91.1" cy="-2.2" r="2.7"/><circle cx="96.4" cy="-2.2" r="2.7"/><circle cx="101.7" cy="-2.2" r="2.7"/><circle cx="107" cy="-2.2" r="2.7"/><circle cx="112.3" cy="-2.2" r="2.7"/><circle cx="117.6" cy="-2.2" r="2.7"/><circle cx="122.9" cy="-2.2" r="2.7"/><circle cx="128.2" cy="-2.2" r="2.7"/><circle cx="133.5" cy="-2.2" r="2.7"/><circle cx="138.8" cy="-2.2" r="2.7"/><circle cx="144.1" cy="-2.2" r="2.7"/><circle cx="149.4" cy="-2.2" r="2.7"/><circle cx="154.7" cy="-2.2" r="2.7"/><circle cx="46" cy="214.6" r="2.5"/><circle cx="51.3" cy="214.6" r="2.5"/><circle cx="56.6" cy="214.6" r="2.5"/><circle cx="61.9" cy="214.6" r="2.5"/><circle cx="67.2" cy="214.6" r="2.5"/><circle cx="72.5" cy="214.6" r="2.5"/><circle cx="77.8" cy="214.6" r="2.5"/><circle cx="83.1" cy="214.6" r="2.5"/><circle cx="88.4" cy="214.6" r="2.5"/><circle cx="93.7" cy="214.6" r="2.5"/><circle cx="99" cy="214.6" r="2.5"/><circle cx="104.3" cy="214.6" r="2.5"/><circle cx="109.6" cy="214.6" r="2.5"/><circle cx="114.9" cy="214.6" r="2.5"/><circle cx="120.2" cy="214.6" r="2.5"/><circle cx="125.5" cy="214.6" r="2.5"/><circle cx="130.8" cy="214.6" r="2.5"/><circle cx="136.1" cy="214.6" r="2.5"/><circle cx="141.4" cy="214.6" r="2.5"/><circle cx="146.7" cy="214.6" r="2.5"/><circle cx="152" cy="214.6" r="2.5"/><circle cx="157.3" cy="214.6" r="2.5"/><circle cx="162.6" cy="214.6" r="2.5"/><circle cx="167.9" cy="214.6" r="2.5"/><circle cx="173.2" cy="214.6" r="2.5"/><circle cx="178.5" cy="214.6" r="2.5"/><circle cx="-1.2" cy="1" r="2.4"/><circle cx="-1.2" cy="6.3" r="2.4"/><circle cx="-1.2" cy="11.6" r="2.4"/><circle cx="-1.2" cy="16.9" r="2.4"/><circle cx="-1.2" cy="22.2" r="2.4"/><circle cx="-1.2" cy="27.5" r="2.4"/><circle cx="-1.2" cy="32.8" r="2.4"/><circle cx="-1.2" cy="38.1" r="2.4"/><circle cx="-1.2" cy="43.4" r="2.4"/><circle cx="-1.2" cy="48.7" r="2.4"/><circle cx="-1.2" cy="54" r="2.4"/><circle cx="-1.2" cy="59.3" r="2.4"/><circle cx="-1.2" cy="64.6" r="2.4"/><circle cx="-1.2" cy="69.9" r="2.4"/><circle cx="-1.2" cy="75.2" r="2.4"/></clipPath><filter id="jfp6" x="-20" y="-20" width="230" height="260" filterUnits="userSpaceOnUse" color-interpolation-filters="sRGB">
<feGaussianBlur in="SourceGraphic" stdDeviation="3.2" result="b"/>
<feTurbulence type="fractalNoise" baseFrequency="0.12 0.16" numOctaves="2" seed="7" result="t"/>
<feColorMatrix in="t" type="matrix" values="1 0 0 0 0 1 0 0 0 0 1 0 0 0 0 0 0 0 0 1" result="n"/>
<feComposite in="b" in2="n" operator="arithmetic" k1="0" k2="1" k3="0.14" k4="-0.07" result="v"/>
<feComponentTransfer in="v">
<feFuncR type="table" tableValues="0 0 0 0 0.5 1 1 1 0.5"/>
<feFuncG type="table" tableValues="0 0 0.5 1 1 1 0.5 0 0"/>
<feFuncB type="table" tableValues="0.56 1 1 1 0.5 0 0 0 0"/>
<feFuncA type="table" tableValues="0 1 1"/>
</feComponentTransfer>
</filter></defs>
<g transform="translate(1037.5,485.5) scale(1.00427,1.00939)">
<rect x="0" y="0" width="234" height="213" fill="#fff" stroke="#262626" stroke-width="1"/>
<g clip-path="url(#swp6)"><g filter="url(#jfp6)">
<rect x="-20" y="-20" width="230" height="260" fill="#737373"/><rect x="21" y="-5" width="43" height="33" fill="#737373"/><rect x="21" y="28" width="10" height="50" fill="#8c8c8c"/><rect x="-5" y="40" width="25" height="32" fill="#454545"/><rect x="-5" y="72" width="37" height="13" fill="#4c4c4c"/><rect x="-5" y="85" width="37" height="18" fill="#737373"/><rect x="32" y="79" width="46" height="24" fill="#737373"/><ellipse cx="62" cy="86" rx="6" ry="5" fill="#4c4c4c"/><rect x="64" y="-5" width="36" height="80" fill="#787878"/><rect x="78" y="75" width="28" height="17" fill="#a3a3a3"/><rect x="80" y="92" width="26" height="18" fill="#4c4c4c"/><path d="M88,-5 150,-5 150,15 128,30 100,31 88,25 Z" fill="#a6a6a6"/><ellipse cx="122" cy="16" rx="7" ry="8" fill="#c7c7c7"/><ellipse cx="150" cy="8" rx="8" ry="12" fill="#808080"/><rect x="89" y="19" width="36" height="42" fill="#808080"/><rect x="125" y="19" width="27" height="46" fill="#787878"/><ellipse cx="143" cy="55" rx="8" ry="8" fill="#4c4c4c"/><rect x="152" y="30" width="13" height="70" fill="#525252"/><rect x="100" y="58" width="23" height="45" fill="#666666"/><rect x="123" y="65" width="17" height="30" fill="#6e6e6e"/><rect x="140" y="65" width="18" height="35" fill="#808080"/><rect x="106" y="97" width="66" height="23" fill="#787878"/><ellipse cx="110" cy="116" rx="7" ry="6" fill="#333333"/><rect x="44" y="106" width="42" height="25" fill="#737373"/><rect x="0" y="103" width="44" height="39" fill="#737373"/><rect x="25" y="131" width="61" height="56" fill="#6b6b6b"/><rect x="86" y="106" width="20" height="29" fill="#4c4c4c"/><rect x="100" y="120" width="37" height="33" fill="#616161"/><rect x="137" y="120" width="28" height="33" fill="#787878"/><rect x="44" y="159" width="106" height="51" fill="#858585"/><path d="M33,36 45,32 58,36 62,50 70,60 70,72 60,76 45,72 38,62 32,50 Z" fill="#0a0a0a"/><ellipse cx="143" cy="181" rx="6" ry="10" fill="#999999"/><path d="M60,214 123,208 149,197 162,188 164,193 150,202 123,212 60,218 Z" fill="#333333"/><path d="M140,198 160,186 166,194 142,203 Z" fill="#121212"/><path d="M150,160 168,160 168,192 152,185 Z" fill="#0d0d0d"/><path d="M166,140 176,140 182,216 170,216 Z" fill="#8c8c8c"/>
</g>
<g filter="url(#sb)"><ellipse cx="78" cy="177" rx="3.0" ry="2.2" fill="#b20000" transform="rotate(-40 78 177)"/><ellipse cx="80" cy="179" rx="3.0" ry="2.2" fill="#e50000" transform="rotate(-40 80 179)"/><ellipse cx="104" cy="182" rx="3.0" ry="2.2" fill="#b20000" transform="rotate(-40 104 182)"/><ellipse cx="107" cy="184" rx="3.0" ry="2.2" fill="#d10000" transform="rotate(-40 107 184)"/><ellipse cx="101" cy="180" rx="3.0" ry="2.2" fill="#e50000" transform="rotate(-40 101 180)"/><ellipse cx="119" cy="176" rx="3.0" ry="2.2" fill="#b20000" transform="rotate(-40 119 176)"/><ellipse cx="116" cy="178" rx="3.0" ry="2.2" fill="#d10000" transform="rotate(-40 116 178)"/><ellipse cx="122" cy="174" rx="3.0" ry="2.2" fill="#e50000" transform="rotate(-40 122 174)"/><ellipse cx="132" cy="169" rx="3.0" ry="2.2" fill="#e50000" transform="rotate(-40 132 169)"/><ellipse cx="136" cy="165" rx="3.0" ry="2.2" fill="#ff0500" transform="rotate(-40 136 165)"/><ellipse cx="134" cy="167" rx="3.0" ry="2.2" fill="#b20000" transform="rotate(-40 134 167)"/><ellipse cx="109" cy="197" rx="3.0" ry="2.2" fill="#ff4c00" transform="rotate(-40 109 197)"/><ellipse cx="112" cy="195" rx="3.0" ry="2.2" fill="#ff3800" transform="rotate(-40 112 195)"/><ellipse cx="106" cy="199" rx="3.0" ry="2.2" fill="#ff6000" transform="rotate(-40 106 199)"/><ellipse cx="97" cy="186" rx="3.0" ry="2.2" fill="#ff7f00" transform="rotate(-40 97 186)"/><ellipse cx="124" cy="185" rx="3.0" ry="2.2" fill="#ffb200" transform="rotate(-40 124 185)"/><ellipse cx="87" cy="180" rx="3.0" ry="2.2" fill="#b20000" transform="rotate(-40 87 180)"/><ellipse cx="176" cy="150" rx="4" ry="5" fill="#d10000"/><ellipse cx="176" cy="196" rx="5" ry="6" fill="#d10000"/><ellipse cx="174" cy="170" rx="4" ry="4" fill="#0000e5"/><ellipse cx="178" cy="182" rx="4" ry="4" fill="#ffe500"/><ellipse cx="172" cy="208" rx="4" ry="4" fill="#f9ff05"/><ellipse cx="178" cy="160" rx="4" ry="3" fill="#ff1900"/><ellipse cx="179" cy="205" rx="3" ry="4" fill="#0019ff"/><ellipse cx="147" cy="88" rx="4" ry="3" fill="#ff9e00"/><ellipse cx="155" cy="95" rx="3" ry="3" fill="#ff9e00"/><ellipse cx="64" cy="48" rx="3" ry="3" fill="#ff7f00"/><ellipse cx="82" cy="80" rx="4" ry="3" fill="#ffb200"/><ellipse cx="86" cy="85" rx="3" ry="3" fill="#e5ff19"/></g>
</g>
<path d="M-5,-5 21,-5 21,56 -5,56 Z" fill="#fff"/><path d="M-5,103 7,103 7,140 -5,140 Z" fill="#fff"/><path d="M21,-5 33,-5 33,28 21,28 Z" fill="#fff"/><path d="M67,33 86,33 86,56 67,56 Z" fill="#fff"/><path d="M27,28 31,28 31,40 27,40 Z" fill="#fff"/><ellipse cx="67" cy="112" rx="8" ry="5" fill="#fff"/><ellipse cx="75" cy="112" rx="3" ry="3" fill="#fff"/><circle cx="2" cy="2" r="3.5" fill="#00b2ff"/><circle cx="6" cy="5" r="3.5" fill="#00c6ff"/><circle cx="6" cy="12" r="4.5" fill="#0000d1"/><circle cx="11" cy="17" r="4.5" fill="#0000bc"/><circle cx="4" cy="22" r="4.5" fill="#0000c6"/><circle cx="12" cy="25" r="4.5" fill="#0000e5"/><circle cx="16" cy="29" r="4" fill="#0000d1"/><circle cx="7" cy="28" r="4" fill="#0000bc"/><circle cx="24" cy="3" r="4.5" fill="#0000d1"/><circle cx="28" cy="8" r="4.5" fill="#0000c6"/><circle cx="24" cy="14" r="4.5" fill="#0000e5"/><circle cx="30" cy="20" r="4" fill="#0000d1"/><circle cx="36" cy="18" r="3.5" fill="#0000e5"/><circle cx="34" cy="38" r="4.5" fill="#0000bc"/><circle cx="41" cy="33" r="4.5" fill="#0000d1"/><circle cx="50" cy="34" r="4.5" fill="#0000bc"/><circle cx="57" cy="38" r="4.5" fill="#0000e5"/><circle cx="61" cy="46" r="4.5" fill="#004cff"/><circle cx="66" cy="58" r="4.5" fill="#0019ff"/><circle cx="69" cy="66" r="4.5" fill="#0000d1"/><circle cx="66" cy="74" r="4.5" fill="#0000b2"/><circle cx="58" cy="77" r="4.5" fill="#0000e5"/><circle cx="48" cy="74" r="4.5" fill="#0000bc"/><circle cx="40" cy="66" r="4.5" fill="#0000d1"/><circle cx="35" cy="56" r="4.5" fill="#0000c6"/><circle cx="31" cy="46" r="4.5" fill="#0000e5"/><circle cx="55" cy="58" r="4.5" fill="#00b2ff"/><circle cx="3" cy="52" r="4" fill="#0000e5"/><circle cx="3" cy="60" r="4" fill="#009eff"/><circle cx="9" cy="63" r="4" fill="#00b2ff"/><circle cx="14" cy="66" r="4" fill="#007fff"/><circle cx="5" cy="68" r="4" fill="#004cff"/><circle cx="2" cy="46" r="3.5" fill="#00e5ff"/><circle cx="73" cy="109" r="3.5" fill="#007fff"/><circle cx="77" cy="113" r="3.5" fill="#004cff"/>
<g clip-path="url(#fc)"><use href="#st"/><path d="M205.8,68.3 208,67 210.5,63.7 212.5,62.1 234,61.7 234,67.7 228.5,69.5 222.5,71 219,76.8 216.9,74.5 211.5,75.5 209.2,77.5 208.8,81.1 206.3,85.7 204.1,88.5 205.5,82.5 206.5,75.5 206,70.5Z M213,64.7 220.5,64.5 220.3,66.9 213,67.1Z" fill="#000" fill-rule="evenodd"/><path d="M186.5,83.5 195.8,80.2 200.5,79.5 204.5,77.5 205,82.8 203.2,88.2 201.8,95.5 199.2,100.2 197.2,103.5 197.8,108.2 200.5,114.8 201.2,119.5 197.8,116.8 193.8,121.5 189.8,124.2 184.5,126.8 181.8,124.2 184.5,113.5 189.8,110.8 190.5,106.8 183.8,100.8 188.5,98.8 185.2,92.2 186.5,89.5 184.5,84.8Z" fill="#000"/></g>
</g>
<rect x="1285" y="485" width="23.5" height="215" fill="url(#jet)" stroke="#262626" stroke-width="0.8"/>
<text x="1317.9" y="509.8" font-size="19.5" font-weight="bold" fill="#262626" stroke="#262626" stroke-width="0.45" textLength="34.7" lengthAdjust="spacingAndGlyphs">0.4</text>
<text x="1317.9" y="554.9" font-size="19.5" font-weight="bold" fill="#262626" stroke="#262626" stroke-width="0.45" textLength="34.7" lengthAdjust="spacingAndGlyphs">0.2</text>
<text x="1318.7" y="600.5" font-size="19.5" font-weight="bold" fill="#262626" stroke="#262626" stroke-width="0.45" textLength="12" lengthAdjust="spacingAndGlyphs">0</text>
<text x="1317.9" y="645.8" font-size="19.5" font-weight="bold" fill="#262626" stroke="#262626" stroke-width="0.45" textLength="44.1" lengthAdjust="spacingAndGlyphs">-0.2</text>
<text x="1317.9" y="691.3" font-size="19.5" font-weight="bold" fill="#262626" stroke="#262626" stroke-width="0.45" textLength="44.1" lengthAdjust="spacingAndGlyphs">-0.4</text>
<path d="M1308.5,546h-2.5" stroke="#262626" stroke-width="1"/>
<path d="M1308.5,592h-2.5" stroke="#262626" stroke-width="1"/>
<path d="M1308.5,638h-2.5" stroke="#262626" stroke-width="1"/>
<text x="972.4" y="731.6" font-size="23.5" font-weight="bold" fill="#262626" stroke="#262626" stroke-width="0.5" textLength="108.2" lengthAdjust="spacingAndGlyphs">SAT-RAP</text>
<text x="1091.3" y="731.6" font-size="23.5" font-weight="bold" fill="#262626" stroke="#262626" stroke-width="0.5" textLength="46.9" lengthAdjust="spacingAndGlyphs">500</text>
<text x="1147.5" y="731.6" font-size="23.5" font-weight="bold" fill="#262626" stroke="#262626" stroke-width="0.5" textLength="46.4" lengthAdjust="spacingAndGlyphs">hPa</text>
<text x="1204.5" y="731.6" font-size="23.5" font-weight="bold" fill="#262626" stroke="#262626" stroke-width="0.5" textLength="37.5" lengthAdjust="spacingAndGlyphs">MR</text>
<text x="1252.7" y="731.6" font-size="23.5" font-weight="bold" fill="#262626" stroke="#262626" stroke-width="0.5" textLength="74.2" lengthAdjust="spacingAndGlyphs">(g/kg)</text>
<text x="1059.3" y="464.6" font-size="12.9" font-weight="bold" fill="#262626" stroke="#262626" stroke-width="0.3" textLength="24.4" lengthAdjust="spacingAndGlyphs">100</text>
<ellipse cx="1088.6" cy="452.2" rx="1.8" ry="1.4" fill="none" stroke="#262626" stroke-width="1"/>
<text x="1095.8" y="464.6" font-size="12.9" font-weight="bold" fill="#262626" stroke="#262626" stroke-width="0.3" textLength="13.2" lengthAdjust="spacingAndGlyphs">W</text>
<text x="1128.2" y="464.6" font-size="12.9" font-weight="bold" fill="#262626" stroke="#262626" stroke-width="0.3" textLength="16" lengthAdjust="spacingAndGlyphs">90</text>
<ellipse cx="1148.7" cy="452.2" rx="1.8" ry="1.4" fill="none" stroke="#262626" stroke-width="1"/>
<text x="1157.3" y="464.6" font-size="12.9" font-weight="bold" fill="#262626" stroke="#262626" stroke-width="0.3" textLength="13" lengthAdjust="spacingAndGlyphs">W</text>
<text x="1192.7" y="464.6" font-size="12.9" font-weight="bold" fill="#262626" stroke="#262626" stroke-width="0.3" textLength="16.8" lengthAdjust="spacingAndGlyphs">80</text>
<ellipse cx="1213.9" cy="452.2" rx="1.8" ry="1.4" fill="none" stroke="#262626" stroke-width="1"/>
<text x="1221.6" y="464.6" font-size="12.9" font-weight="bold" fill="#262626" stroke="#262626" stroke-width="0.3" textLength="13.2" lengthAdjust="spacingAndGlyphs">W</text>
<text x="1256.1" y="464.6" font-size="12.9" font-weight="bold" fill="#262626" stroke="#262626" stroke-width="0.3" textLength="15.4" lengthAdjust="spacingAndGlyphs">70</text>
<ellipse cx="1276.2" cy="452.2" rx="1.8" ry="1.4" fill="none" stroke="#262626" stroke-width="1"/>
<text x="1284.8" y="464.6" font-size="12.9" font-weight="bold" fill="#262626" stroke="#262626" stroke-width="0.3" textLength="13.2" lengthAdjust="spacingAndGlyphs">W</text>
<text x="988.4" y="502.7" font-size="12.9" font-weight="bold" fill="#262626" stroke="#262626" stroke-width="0.3" textLength="15.8" lengthAdjust="spacingAndGlyphs">48</text>
<ellipse cx="1009.7" cy="489.6" rx="1.8" ry="1.4" fill="none" stroke="#262626" stroke-width="1"/>
<text x="1017.7" y="502.7" font-size="12.9" font-weight="bold" fill="#262626" stroke="#262626" stroke-width="0.3" textLength="9.3" lengthAdjust="spacingAndGlyphs">N</text>
<text x="988.4" y="520.7" font-size="12.9" font-weight="bold" fill="#262626" stroke="#262626" stroke-width="0.3" textLength="15.8" lengthAdjust="spacingAndGlyphs">46</text>
<ellipse cx="1009.7" cy="507.6" rx="1.8" ry="1.4" fill="none" stroke="#262626" stroke-width="1"/>
<text x="1017.7" y="520.7" font-size="12.9" font-weight="bold" fill="#262626" stroke="#262626" stroke-width="0.3" textLength="9.3" lengthAdjust="spacingAndGlyphs">N</text>
<text x="988.4" y="538" font-size="12.9" font-weight="bold" fill="#262626" stroke="#262626" stroke-width="0.3" textLength="15.8" lengthAdjust="spacingAndGlyphs">44</text>
<ellipse cx="1009.7" cy="524.9" rx="1.8" ry="1.4" fill="none" stroke="#262626" stroke-width="1"/>
<text x="1017.7" y="538" font-size="12.9" font-weight="bold" fill="#262626" stroke="#262626" stroke-width="0.3" textLength="9.3" lengthAdjust="spacingAndGlyphs">N</text>
<text x="988.4" y="557" font-size="12.9" font-weight="bold" fill="#262626" stroke="#262626" stroke-width="0.3" textLength="15.8" lengthAdjust="spacingAndGlyphs">42</text>
<ellipse cx="1009.7" cy="543.9" rx="1.8" ry="1.4" fill="none" stroke="#262626" stroke-width="1"/>
<text x="1017.7" y="557" font-size="12.9" font-weight="bold" fill="#262626" stroke="#262626" stroke-width="0.3" textLength="9.3" lengthAdjust="spacingAndGlyphs">N</text>
<text x="988.4" y="572.9" font-size="12.9" font-weight="bold" fill="#262626" stroke="#262626" stroke-width="0.3" textLength="15.8" lengthAdjust="spacingAndGlyphs">40</text>
<ellipse cx="1009.7" cy="559.8" rx="1.8" ry="1.4" fill="none" stroke="#262626" stroke-width="1"/>
<text x="1017.7" y="572.9" font-size="12.9" font-weight="bold" fill="#262626" stroke="#262626" stroke-width="0.3" textLength="9.3" lengthAdjust="spacingAndGlyphs">N</text>
<text x="988.4" y="588.7" font-size="12.9" font-weight="bold" fill="#262626" stroke="#262626" stroke-width="0.3" textLength="15.8" lengthAdjust="spacingAndGlyphs">38</text>
<ellipse cx="1009.7" cy="575.6" rx="1.8" ry="1.4" fill="none" stroke="#262626" stroke-width="1"/>
<text x="1017.7" y="588.7" font-size="12.9" font-weight="bold" fill="#262626" stroke="#262626" stroke-width="0.3" textLength="9.3" lengthAdjust="spacingAndGlyphs">N</text>
<text x="988.4" y="605.3" font-size="12.9" font-weight="bold" fill="#262626" stroke="#262626" stroke-width="0.3" textLength="15.8" lengthAdjust="spacingAndGlyphs">36</text>
<ellipse cx="1009.7" cy="592.2" rx="1.8" ry="1.4" fill="none" stroke="#262626" stroke-width="1"/>
<text x="1017.7" y="605.3" font-size="12.9" font-weight="bold" fill="#262626" stroke="#262626" stroke-width="0.3" textLength="9.3" lengthAdjust="spacingAndGlyphs">N</text>
<text x="988.4" y="619.9" font-size="12.9" font-weight="bold" fill="#262626" stroke="#262626" stroke-width="0.3" textLength="15.8" lengthAdjust="spacingAndGlyphs">34</text>
<ellipse cx="1009.7" cy="606.8" rx="1.8" ry="1.4" fill="none" stroke="#262626" stroke-width="1"/>
<text x="1017.7" y="619.9" font-size="12.9" font-weight="bold" fill="#262626" stroke="#262626" stroke-width="0.3" textLength="9.3" lengthAdjust="spacingAndGlyphs">N</text>
<text x="988.4" y="637.2" font-size="12.9" font-weight="bold" fill="#262626" stroke="#262626" stroke-width="0.3" textLength="15.8" lengthAdjust="spacingAndGlyphs">32</text>
<ellipse cx="1009.7" cy="624.1" rx="1.8" ry="1.4" fill="none" stroke="#262626" stroke-width="1"/>
<text x="1017.7" y="637.2" font-size="12.9" font-weight="bold" fill="#262626" stroke="#262626" stroke-width="0.3" textLength="9.3" lengthAdjust="spacingAndGlyphs">N</text>
<text x="988.4" y="651.1" font-size="12.9" font-weight="bold" fill="#262626" stroke="#262626" stroke-width="0.3" textLength="15.8" lengthAdjust="spacingAndGlyphs">30</text>
<ellipse cx="1009.7" cy="638" rx="1.8" ry="1.4" fill="none" stroke="#262626" stroke-width="1"/>
<text x="1017.7" y="651.1" font-size="12.9" font-weight="bold" fill="#262626" stroke="#262626" stroke-width="0.3" textLength="9.3" lengthAdjust="spacingAndGlyphs">N</text>
<text x="988.4" y="664.4" font-size="12.9" font-weight="bold" fill="#262626" stroke="#262626" stroke-width="0.3" textLength="15.8" lengthAdjust="spacingAndGlyphs">28</text>
<ellipse cx="1009.7" cy="651.3" rx="1.8" ry="1.4" fill="none" stroke="#262626" stroke-width="1"/>
<text x="1017.7" y="664.4" font-size="12.9" font-weight="bold" fill="#262626" stroke="#262626" stroke-width="0.3" textLength="9.3" lengthAdjust="spacingAndGlyphs">N</text>
<text x="988.4" y="679.2" font-size="12.9" font-weight="bold" fill="#262626" stroke="#262626" stroke-width="0.3" textLength="15.8" lengthAdjust="spacingAndGlyphs">26</text>
<ellipse cx="1009.7" cy="666.1" rx="1.8" ry="1.4" fill="none" stroke="#262626" stroke-width="1"/>
<text x="1017.7" y="679.2" font-size="12.9" font-weight="bold" fill="#262626" stroke="#262626" stroke-width="0.3" textLength="9.3" lengthAdjust="spacingAndGlyphs">N</text>
<text x="988.4" y="693.3" font-size="12.9" font-weight="bold" fill="#262626" stroke="#262626" stroke-width="0.3" textLength="15.8" lengthAdjust="spacingAndGlyphs">24</text>
<ellipse cx="1009.7" cy="680.2" rx="1.8" ry="1.4" fill="none" stroke="#262626" stroke-width="1"/>
<text x="1017.7" y="693.3" font-size="12.9" font-weight="bold" fill="#262626" stroke="#262626" stroke-width="0.3" textLength="9.3" lengthAdjust="spacingAndGlyphs">N</text>
<text x="988.4" y="706.6" font-size="12.9" font-weight="bold" fill="#262626" stroke="#262626" stroke-width="0.3" textLength="15.8" lengthAdjust="spacingAndGlyphs">22</text>
<ellipse cx="1009.7" cy="693.5" rx="1.8" ry="1.4" fill="none" stroke="#262626" stroke-width="1"/>
<text x="1017.7" y="706.6" font-size="12.9" font-weight="bold" fill="#262626" stroke="#262626" stroke-width="0.3" textLength="9.3" lengthAdjust="spacingAndGlyphs">N</text>
</svg></body></html>
